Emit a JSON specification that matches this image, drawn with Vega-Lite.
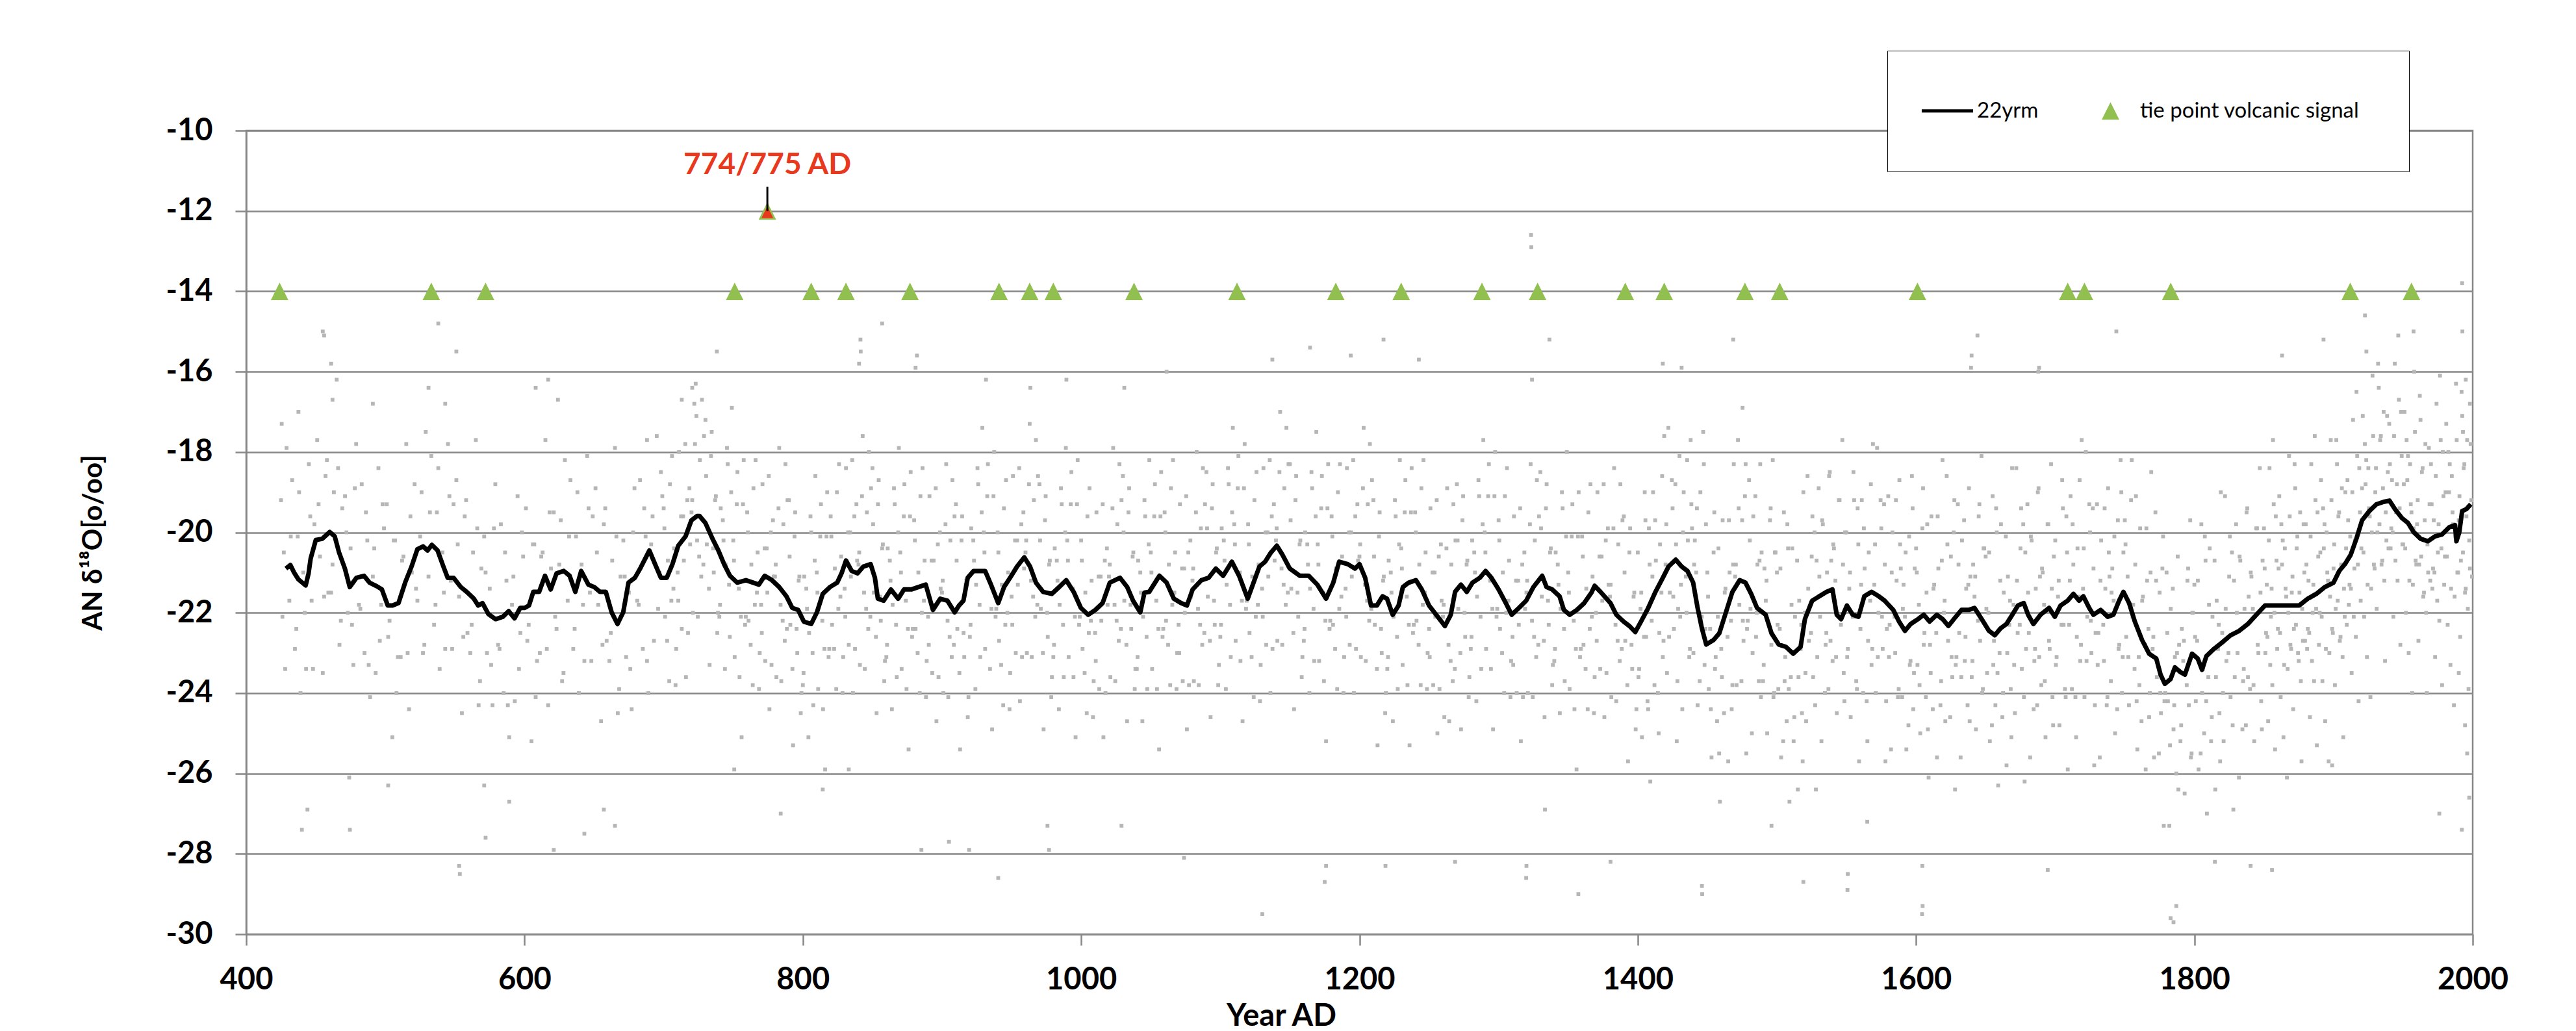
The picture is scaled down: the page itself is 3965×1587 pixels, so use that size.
{
"$schema": "https://vega.github.io/schema/vega-lite/v6.json",
"width": 3427, "height": 1237,
"autosize": {"type": "none"},
"padding": {"left": 379, "top": 201, "right": 159, "bottom": 149},
"background": "white",
"config": {
  "view": {"stroke": "#878787", "strokeWidth": 2.5},
  "font": "Lato",
  "axis": {"labelFont": "Lato", "titleFont": "Lato", "labelColor": "black", "titleColor": "black", "domainColor": "#878787", "domainWidth": 2.5, "tickColor": "#878787", "tickWidth": 2.5, "tickSize": 17, "gridColor": "#878787", "gridWidth": 2.5, "labelFontWeight": "bold", "labelFontSize": 47, "titleFontWeight": "bold", "labelOverlap": false, "labelFlush": false}
},
"datasets": {
"raw": [
{"t":425,"v":-19.2},{"t":426,"v":-22.1},{"t":427,"v":-20.5},{"t":428,"v":-23.4},{"t":429,"v":-17.9},
{"t":431,"v":-21.7},{"t":433,"v":-18.7},{"t":435,"v":-22.9},{"t":437,"v":-20.1},{"t":439,"v":-24.0},
{"t":441,"v":-21.0},{"t":443,"v":-23.4},{"t":445,"v":-18.3},{"t":447,"v":-21.7},{"t":449,"v":-19.8},
{"t":451,"v":-17.7},{"t":453,"v":-20.6},{"t":455,"v":-23.5},{"t":457,"v":-18.6},{"t":459,"v":-21.5},
{"t":461,"v":-21.5},{"t":463,"v":-19.0},{"t":465,"v":-16.2},{"t":467,"v":-22.8},{"t":469,"v":-19.4},
{"t":471,"v":-19.1},{"t":473,"v":-22.0},{"t":475,"v":-20.4},{"t":477,"v":-23.3},{"t":479,"v":-17.8},
{"t":481,"v":-21.8},{"t":483,"v":-18.8},{"t":485,"v":-23.0},{"t":487,"v":-20.2},{"t":489,"v":-24.1},
{"t":491,"v":-21.1},{"t":493,"v":-23.5},{"t":495,"v":-18.4},{"t":497,"v":-21.8},{"t":499,"v":-19.9},
{"t":501,"v":-19.3},{"t":503,"v":-22.2},{"t":505,"v":-25.1},{"t":507,"v":-20.2},{"t":509,"v":-23.1},
{"t":511,"v":-23.1},{"t":513,"v":-20.6},{"t":515,"v":-17.8},{"t":517,"v":-24.4},{"t":519,"v":-21.0},
{"t":521,"v":-18.8},{"t":523,"v":-21.7},{"t":525,"v":-20.1},{"t":527,"v":-23.0},{"t":529,"v":-17.5},
{"t":531,"v":-21.1},{"t":533,"v":-18.1},{"t":535,"v":-22.3},{"t":537,"v":-19.5},{"t":539,"v":-23.4},
{"t":541,"v":-20.5},{"t":543,"v":-22.9},{"t":545,"v":-17.8},{"t":547,"v":-21.2},{"t":549,"v":-19.3},
{"t":551,"v":-18.7},{"t":553,"v":-21.6},{"t":555,"v":-24.5},{"t":557,"v":-19.6},{"t":559,"v":-22.5},
{"t":561,"v":-23.0},{"t":563,"v":-20.5},{"t":565,"v":-17.7},{"t":567,"v":-24.3},{"t":569,"v":-20.9},
{"t":571,"v":-20.1},{"t":573,"v":-23.0},{"t":575,"v":-21.4},{"t":577,"v":-24.3},{"t":579,"v":-18.8},
{"t":581,"v":-22.8},{"t":583,"v":-19.8},{"t":585,"v":-24.0},{"t":587,"v":-21.2},{"t":589,"v":-25.1},
{"t":591,"v":-21.8},{"t":593,"v":-24.2},{"t":595,"v":-19.1},{"t":597,"v":-22.5},{"t":599,"v":-20.6},
{"t":601,"v":-19.4},{"t":603,"v":-22.3},{"t":605,"v":-25.2},{"t":607,"v":-20.3},{"t":609,"v":-23.2},
{"t":611,"v":-23.0},{"t":613,"v":-20.5},{"t":615,"v":-17.7},{"t":617,"v":-24.3},{"t":619,"v":-20.9},
{"t":621,"v":-19.5},{"t":623,"v":-22.4},{"t":625,"v":-20.8},{"t":627,"v":-23.7},{"t":629,"v":-18.2},
{"t":631,"v":-21.7},{"t":633,"v":-18.7},{"t":635,"v":-22.9},{"t":637,"v":-20.1},{"t":639,"v":-24.0},
{"t":641,"v":-20.8},{"t":643,"v":-23.2},{"t":645,"v":-18.1},{"t":647,"v":-21.5},{"t":649,"v":-19.6},
{"t":651,"v":-18.9},{"t":653,"v":-21.8},{"t":655,"v":-24.7},{"t":657,"v":-19.8},{"t":659,"v":-22.7},
{"t":661,"v":-23.2},{"t":663,"v":-20.7},{"t":665,"v":-17.9},{"t":667,"v":-24.5},{"t":669,"v":-21.1},
{"t":671,"v":-20.2},{"t":673,"v":-23.1},{"t":675,"v":-21.5},{"t":677,"v":-24.4},{"t":679,"v":-18.9},
{"t":681,"v":-21.7},{"t":683,"v":-18.7},{"t":685,"v":-22.9},{"t":687,"v":-20.1},{"t":689,"v":-24.0},
{"t":691,"v":-20.3},{"t":693,"v":-22.7},{"t":695,"v":-17.6},{"t":697,"v":-21.0},{"t":699,"v":-19.1},
{"t":700,"v":-19.4},{"t":701,"v":-22.1},{"t":703,"v":-20.7},{"t":704,"v":-23.7},{"t":706,"v":-18.1},{"t":707,"v":-21.4},{"t":709,"v":-22.9},
{"t":710,"v":-21.0},{"t":711,"v":-18.0},{"t":713,"v":-22.4},{"t":714,"v":-19.6},{"t":716,"v":-23.6},{"t":717,"v":-19.2},{"t":719,"v":-20.3},
{"t":720,"v":-19.5},{"t":721,"v":-22.0},{"t":723,"v":-16.3},{"t":724,"v":-20.2},{"t":726,"v":-18.2},{"t":727,"v":-21.1},{"t":729,"v":-17.6},
{"t":730,"v":-17.2},{"t":731,"v":-20.3},{"t":733,"v":-23.3},{"t":734,"v":-18.1},{"t":736,"v":-21.0},{"t":737,"v":-19.2},{"t":739,"v":-22.0},
{"t":740,"v":-22.1},{"t":741,"v":-19.4},{"t":743,"v":-20.2},{"t":744,"v":-23.4},{"t":746,"v":-18.3},{"t":747,"v":-21.3},{"t":749,"v":-16.9},
{"t":750,"v":-20.2},{"t":751,"v":-23.1},{"t":753,"v":-18.5},{"t":754,"v":-21.4},{"t":756,"v":-25.1},{"t":757,"v":-19.3},{"t":759,"v":-22.1},
{"t":760,"v":-19.5},{"t":761,"v":-22.2},{"t":763,"v":-20.8},{"t":764,"v":-23.8},{"t":766,"v":-18.2},{"t":767,"v":-21.5},{"t":769,"v":-23.0},
{"t":770,"v":-21.8},{"t":771,"v":-18.8},{"t":773,"v":-23.2},{"t":774,"v":-20.4},{"t":776,"v":-24.4},{"t":777,"v":-20.0},{"t":779,"v":-21.1},
{"t":780,"v":-21.1},{"t":781,"v":-23.6},{"t":783,"v":-17.9},{"t":784,"v":-21.8},{"t":786,"v":-19.8},{"t":787,"v":-22.7},{"t":789,"v":-19.2},
{"t":790,"v":-19.2},{"t":791,"v":-22.3},{"t":793,"v":-25.3},{"t":794,"v":-20.1},{"t":796,"v":-23.0},{"t":797,"v":-21.2},{"t":799,"v":-24.0},
{"t":800,"v":-23.8},{"t":801,"v":-21.1},{"t":803,"v":-21.9},{"t":804,"v":-25.1},{"t":806,"v":-20.0},{"t":807,"v":-23.0},{"t":809,"v":-18.6},
{"t":810,"v":-21.0},{"t":811,"v":-23.9},{"t":813,"v":-19.3},{"t":814,"v":-22.2},{"t":816,"v":-25.9},{"t":817,"v":-20.1},{"t":819,"v":-22.9},
{"t":820,"v":-19.6},{"t":821,"v":-22.3},{"t":823,"v":-20.9},{"t":824,"v":-23.9},{"t":826,"v":-18.3},{"t":827,"v":-21.6},{"t":829,"v":-23.1},
{"t":830,"v":-21.4},{"t":831,"v":-18.4},{"t":833,"v":-22.8},{"t":834,"v":-20.0},{"t":836,"v":-24.0},{"t":837,"v":-19.6},{"t":839,"v":-20.7},
{"t":840,"v":-20.8},{"t":841,"v":-23.3},{"t":843,"v":-17.6},{"t":844,"v":-21.5},{"t":846,"v":-19.5},{"t":847,"v":-22.4},{"t":849,"v":-18.9},
{"t":850,"v":-18.4},{"t":851,"v":-21.5},{"t":853,"v":-24.5},{"t":854,"v":-19.3},{"t":856,"v":-22.2},{"t":857,"v":-20.4},{"t":859,"v":-23.2},
{"t":860,"v":-23.1},{"t":861,"v":-20.4},{"t":863,"v":-21.2},{"t":864,"v":-24.4},{"t":866,"v":-19.3},{"t":867,"v":-22.3},{"t":869,"v":-17.9},
{"t":870,"v":-20.5},{"t":871,"v":-23.4},{"t":873,"v":-18.8},{"t":874,"v":-21.7},{"t":876,"v":-25.4},{"t":877,"v":-19.6},{"t":879,"v":-22.4},
{"t":880,"v":-19.7},{"t":881,"v":-22.4},{"t":883,"v":-21.0},{"t":884,"v":-24.0},{"t":886,"v":-18.4},{"t":887,"v":-21.7},{"t":889,"v":-23.2},
{"t":890,"v":-22.1},{"t":891,"v":-19.1},{"t":893,"v":-23.5},{"t":894,"v":-20.7},{"t":896,"v":-24.7},{"t":897,"v":-20.3},{"t":899,"v":-21.4},
{"t":900,"v":-21.5},{"t":901,"v":-24.0},{"t":903,"v":-18.3},{"t":904,"v":-22.2},{"t":906,"v":-20.2},{"t":907,"v":-23.1},{"t":909,"v":-19.6},
{"t":910,"v":-19.3},{"t":911,"v":-22.4},{"t":913,"v":-25.4},{"t":914,"v":-20.2},{"t":916,"v":-23.1},{"t":917,"v":-21.3},{"t":919,"v":-24.1},
{"t":920,"v":-22.6},{"t":921,"v":-19.9},{"t":923,"v":-20.7},{"t":924,"v":-23.9},{"t":926,"v":-18.8},{"t":927,"v":-21.8},{"t":929,"v":-17.4},
{"t":930,"v":-20.0},{"t":931,"v":-22.9},{"t":933,"v":-18.3},{"t":934,"v":-21.2},{"t":936,"v":-24.9},{"t":937,"v":-19.1},{"t":939,"v":-21.9},
{"t":940,"v":-20.0},{"t":941,"v":-22.7},{"t":943,"v":-21.3},{"t":944,"v":-24.3},{"t":946,"v":-18.7},{"t":947,"v":-22.0},{"t":949,"v":-23.5},
{"t":950,"v":-21.6},{"t":951,"v":-18.6},{"t":953,"v":-23.0},{"t":954,"v":-20.2},{"t":956,"v":-24.2},{"t":957,"v":-19.8},{"t":959,"v":-20.9},
{"t":960,"v":-20.5},{"t":961,"v":-23.0},{"t":963,"v":-17.3},{"t":964,"v":-21.2},{"t":966,"v":-19.2},{"t":967,"v":-22.1},{"t":969,"v":-18.6},
{"t":970,"v":-18.8},{"t":971,"v":-21.9},{"t":973,"v":-24.9},{"t":974,"v":-19.7},{"t":976,"v":-22.6},{"t":977,"v":-20.8},{"t":979,"v":-23.6},
{"t":980,"v":-23.1},{"t":981,"v":-20.4},{"t":983,"v":-21.2},{"t":984,"v":-24.4},{"t":986,"v":-19.3},{"t":987,"v":-22.3},{"t":989,"v":-17.9},
{"t":990,"v":-20.2},{"t":991,"v":-23.1},{"t":993,"v":-18.5},{"t":994,"v":-21.4},{"t":996,"v":-25.1},{"t":997,"v":-19.3},{"t":999,"v":-22.1},
{"t":1000,"v":-20.2},{"t":1001,"v":-22.9},{"t":1003,"v":-21.5},{"t":1004,"v":-24.5},{"t":1006,"v":-18.9},{"t":1007,"v":-22.2},{"t":1009,"v":-23.7},
{"t":1010,"v":-22.5},{"t":1011,"v":-19.5},{"t":1013,"v":-23.9},{"t":1014,"v":-21.1},{"t":1016,"v":-25.1},{"t":1017,"v":-20.7},{"t":1019,"v":-21.8},
{"t":1020,"v":-21.1},{"t":1021,"v":-23.6},{"t":1023,"v":-17.9},{"t":1024,"v":-21.8},{"t":1026,"v":-19.8},{"t":1027,"v":-22.7},{"t":1029,"v":-19.2},
{"t":1030,"v":-18.6},{"t":1031,"v":-21.7},{"t":1033,"v":-24.7},{"t":1034,"v":-19.5},{"t":1036,"v":-22.4},{"t":1037,"v":-20.6},{"t":1039,"v":-23.4},
{"t":1040,"v":-23.4},{"t":1041,"v":-20.7},{"t":1043,"v":-21.5},{"t":1044,"v":-24.7},{"t":1046,"v":-19.6},{"t":1047,"v":-22.6},{"t":1049,"v":-18.2},
{"t":1050,"v":-20.5},{"t":1051,"v":-23.4},{"t":1053,"v":-18.8},{"t":1054,"v":-21.7},{"t":1056,"v":-25.4},{"t":1057,"v":-19.6},{"t":1059,"v":-22.4},
{"t":1060,"v":-19.5},{"t":1061,"v":-22.2},{"t":1063,"v":-20.8},{"t":1064,"v":-23.8},{"t":1066,"v":-18.2},{"t":1067,"v":-21.5},{"t":1069,"v":-23.0},
{"t":1070,"v":-22.3},{"t":1071,"v":-19.3},{"t":1073,"v":-23.7},{"t":1074,"v":-20.9},{"t":1076,"v":-24.9},{"t":1077,"v":-20.5},{"t":1079,"v":-21.6},
{"t":1080,"v":-21.2},{"t":1081,"v":-23.7},{"t":1083,"v":-18.0},{"t":1084,"v":-21.9},{"t":1086,"v":-19.9},{"t":1087,"v":-22.8},{"t":1089,"v":-19.3},
{"t":1090,"v":-18.5},{"t":1091,"v":-21.6},{"t":1093,"v":-24.6},{"t":1094,"v":-19.4},{"t":1096,"v":-22.3},{"t":1097,"v":-20.5},{"t":1099,"v":-23.3},
{"t":1100,"v":-22.6},{"t":1101,"v":-19.9},{"t":1103,"v":-20.7},{"t":1104,"v":-23.9},{"t":1106,"v":-18.8},{"t":1107,"v":-21.8},{"t":1109,"v":-17.4},
{"t":1110,"v":-19.8},{"t":1111,"v":-22.7},{"t":1113,"v":-18.1},{"t":1114,"v":-21.0},{"t":1116,"v":-24.7},{"t":1117,"v":-18.9},{"t":1119,"v":-21.7},
{"t":1120,"v":-19.8},{"t":1121,"v":-22.5},{"t":1123,"v":-21.1},{"t":1124,"v":-24.1},{"t":1126,"v":-18.5},{"t":1127,"v":-21.8},{"t":1129,"v":-23.3},
{"t":1130,"v":-21.4},{"t":1131,"v":-18.4},{"t":1133,"v":-22.8},{"t":1134,"v":-20.0},{"t":1136,"v":-24.0},{"t":1137,"v":-19.6},{"t":1139,"v":-20.7},
{"t":1140,"v":-20.2},{"t":1141,"v":-22.7},{"t":1143,"v":-17.0},{"t":1144,"v":-20.9},{"t":1146,"v":-18.9},{"t":1147,"v":-21.8},{"t":1149,"v":-18.3},
{"t":1150,"v":-18.3},{"t":1151,"v":-21.4},{"t":1153,"v":-24.4},{"t":1154,"v":-19.2},{"t":1156,"v":-22.1},{"t":1157,"v":-20.3},{"t":1159,"v":-23.1},
{"t":1160,"v":-22.7},{"t":1161,"v":-20.0},{"t":1163,"v":-20.8},{"t":1164,"v":-24.0},{"t":1166,"v":-18.9},{"t":1167,"v":-21.9},{"t":1169,"v":-17.5},
{"t":1170,"v":-20.3},{"t":1171,"v":-23.2},{"t":1173,"v":-18.6},{"t":1174,"v":-21.5},{"t":1176,"v":-25.2},{"t":1177,"v":-19.4},{"t":1179,"v":-22.2},
{"t":1180,"v":-19.6},{"t":1181,"v":-22.3},{"t":1183,"v":-20.9},{"t":1184,"v":-23.9},{"t":1186,"v":-18.3},{"t":1187,"v":-21.6},{"t":1189,"v":-23.1},
{"t":1190,"v":-21.4},{"t":1191,"v":-18.4},{"t":1193,"v":-22.8},{"t":1194,"v":-20.0},{"t":1196,"v":-24.0},{"t":1197,"v":-19.6},{"t":1199,"v":-20.7},
{"t":1200,"v":-20.6},{"t":1201,"v":-23.1},{"t":1203,"v":-17.4},{"t":1204,"v":-21.3},{"t":1206,"v":-19.3},{"t":1207,"v":-22.2},{"t":1209,"v":-18.7},
{"t":1210,"v":-19.2},{"t":1211,"v":-22.3},{"t":1213,"v":-25.3},{"t":1214,"v":-20.1},{"t":1216,"v":-23.0},{"t":1217,"v":-21.2},{"t":1219,"v":-24.0},
{"t":1220,"v":-23.4},{"t":1221,"v":-20.7},{"t":1223,"v":-21.5},{"t":1224,"v":-24.7},{"t":1226,"v":-19.6},{"t":1227,"v":-22.6},{"t":1229,"v":-18.2},
{"t":1230,"v":-20.4},{"t":1231,"v":-23.3},{"t":1233,"v":-18.7},{"t":1234,"v":-21.6},{"t":1236,"v":-25.3},{"t":1237,"v":-19.5},{"t":1239,"v":-22.3},
{"t":1240,"v":-19.5},{"t":1241,"v":-22.2},{"t":1243,"v":-20.8},{"t":1244,"v":-23.8},{"t":1246,"v":-18.2},{"t":1247,"v":-21.5},{"t":1249,"v":-23.0},
{"t":1250,"v":-22.4},{"t":1251,"v":-19.4},{"t":1253,"v":-23.8},{"t":1254,"v":-21.0},{"t":1256,"v":-25.0},{"t":1257,"v":-20.6},{"t":1259,"v":-21.7},
{"t":1260,"v":-22.1},{"t":1261,"v":-24.6},{"t":1263,"v":-18.9},{"t":1264,"v":-22.8},{"t":1266,"v":-20.8},{"t":1267,"v":-23.7},{"t":1269,"v":-20.2},
{"t":1270,"v":-18.8},{"t":1271,"v":-21.9},{"t":1273,"v":-24.9},{"t":1274,"v":-19.7},{"t":1276,"v":-22.6},{"t":1277,"v":-20.8},{"t":1279,"v":-23.6},
{"t":1280,"v":-22.9},{"t":1281,"v":-20.2},{"t":1283,"v":-21.0},{"t":1284,"v":-24.2},{"t":1286,"v":-19.1},{"t":1287,"v":-22.1},{"t":1289,"v":-17.7},
{"t":1290,"v":-20.0},{"t":1291,"v":-22.9},{"t":1293,"v":-18.3},{"t":1294,"v":-21.2},{"t":1296,"v":-24.9},{"t":1297,"v":-19.1},{"t":1299,"v":-21.9},
{"t":1300,"v":-19.7},{"t":1301,"v":-22.4},{"t":1303,"v":-21.0},{"t":1304,"v":-24.0},{"t":1306,"v":-18.4},{"t":1307,"v":-21.7},{"t":1309,"v":-23.2},
{"t":1310,"v":-22.6},{"t":1311,"v":-19.6},{"t":1313,"v":-24.0},{"t":1314,"v":-21.2},{"t":1316,"v":-25.2},{"t":1317,"v":-20.8},{"t":1319,"v":-21.9},
{"t":1320,"v":-21.5},{"t":1321,"v":-24.0},{"t":1323,"v":-18.3},{"t":1324,"v":-22.2},{"t":1326,"v":-20.2},{"t":1327,"v":-23.1},{"t":1329,"v":-19.6},
{"t":1330,"v":-18.5},{"t":1331,"v":-21.6},{"t":1333,"v":-24.6},{"t":1334,"v":-19.4},{"t":1336,"v":-22.3},{"t":1337,"v":-20.5},{"t":1339,"v":-23.3},
{"t":1340,"v":-23.2},{"t":1341,"v":-20.5},{"t":1343,"v":-21.3},{"t":1344,"v":-24.5},{"t":1346,"v":-19.4},{"t":1347,"v":-22.4},{"t":1349,"v":-18.0},
{"t":1350,"v":-21.0},{"t":1351,"v":-23.9},{"t":1353,"v":-19.3},{"t":1354,"v":-22.2},{"t":1356,"v":-25.9},{"t":1357,"v":-20.1},{"t":1359,"v":-22.9},
{"t":1360,"v":-20.1},{"t":1361,"v":-22.8},{"t":1363,"v":-21.4},{"t":1364,"v":-24.4},{"t":1366,"v":-18.8},{"t":1367,"v":-22.1},{"t":1369,"v":-23.6},
{"t":1370,"v":-22.0},{"t":1371,"v":-19.0},{"t":1373,"v":-23.4},{"t":1374,"v":-20.6},{"t":1376,"v":-24.6},{"t":1377,"v":-20.2},{"t":1379,"v":-21.3},
{"t":1380,"v":-21.6},{"t":1381,"v":-24.1},{"t":1383,"v":-18.4},{"t":1384,"v":-22.3},{"t":1386,"v":-20.3},{"t":1387,"v":-23.2},{"t":1389,"v":-19.7},
{"t":1390,"v":-19.6},{"t":1391,"v":-22.7},{"t":1393,"v":-25.7},{"t":1394,"v":-20.5},{"t":1396,"v":-23.4},{"t":1397,"v":-21.6},{"t":1399,"v":-24.4},
{"t":1400,"v":-20.5},{"t":1401,"v":-23.4},{"t":1402,"v":-21.9},{"t":1403,"v":-25.1},{"t":1405,"v":-19.0},{"t":1406,"v":-22.6},{"t":1407,"v":-24.2},{"t":1408,"v":-19.9},{"t":1409,"v":-26.2},
{"t":1410,"v":-22.2},{"t":1411,"v":-19.0},{"t":1412,"v":-23.8},{"t":1413,"v":-20.7},{"t":1415,"v":-25.0},{"t":1416,"v":-20.3},{"t":1417,"v":-21.5},{"t":1418,"v":-23.1},{"t":1419,"v":-17.6},
{"t":1420,"v":-20.8},{"t":1421,"v":-23.5},{"t":1422,"v":-17.4},{"t":1423,"v":-21.5},{"t":1425,"v":-19.4},{"t":1426,"v":-22.4},{"t":1427,"v":-18.8},{"t":1428,"v":-25.2},{"t":1429,"v":-21.9},
{"t":1430,"v":-18.1},{"t":1431,"v":-21.3},{"t":1432,"v":-24.4},{"t":1433,"v":-19.0},{"t":1435,"v":-22.0},{"t":1436,"v":-20.2},{"t":1437,"v":-23.1},{"t":1438,"v":-17.7},{"t":1439,"v":-19.9},
{"t":1440,"v":-23.0},{"t":1441,"v":-20.2},{"t":1442,"v":-21.0},{"t":1443,"v":-24.3},{"t":1445,"v":-19.0},{"t":1446,"v":-22.1},{"t":1447,"v":-17.5},{"t":1448,"v":-23.3},{"t":1449,"v":-19.8},
{"t":1450,"v":-21.0},{"t":1451,"v":-23.9},{"t":1452,"v":-22.4},{"t":1453,"v":-25.6},{"t":1455,"v":-19.5},{"t":1456,"v":-23.1},{"t":1457,"v":-24.7},{"t":1458,"v":-20.4},{"t":1459,"v":-26.7},
{"t":1460,"v":-22.9},{"t":1461,"v":-19.7},{"t":1462,"v":-24.5},{"t":1463,"v":-21.4},{"t":1465,"v":-25.7},{"t":1466,"v":-21.0},{"t":1467,"v":-22.2},{"t":1468,"v":-23.8},{"t":1469,"v":-18.3},
{"t":1470,"v":-21.1},{"t":1471,"v":-23.8},{"t":1472,"v":-17.7},{"t":1473,"v":-21.8},{"t":1475,"v":-19.7},{"t":1476,"v":-22.7},{"t":1477,"v":-19.1},{"t":1478,"v":-25.5},{"t":1479,"v":-22.2},
{"t":1480,"v":-18.7},{"t":1481,"v":-21.9},{"t":1482,"v":-25.0},{"t":1483,"v":-19.6},{"t":1485,"v":-22.6},{"t":1486,"v":-20.8},{"t":1487,"v":-23.7},{"t":1488,"v":-18.3},{"t":1489,"v":-20.5},
{"t":1490,"v":-23.7},{"t":1491,"v":-20.9},{"t":1492,"v":-21.7},{"t":1493,"v":-25.0},{"t":1495,"v":-19.7},{"t":1496,"v":-22.8},{"t":1497,"v":-18.2},{"t":1498,"v":-24.0},{"t":1499,"v":-20.5},
{"t":1500,"v":-21.0},{"t":1501,"v":-23.9},{"t":1502,"v":-22.4},{"t":1503,"v":-25.6},{"t":1505,"v":-19.5},{"t":1506,"v":-23.1},{"t":1507,"v":-24.7},{"t":1508,"v":-20.4},{"t":1509,"v":-26.7},
{"t":1510,"v":-23.6},{"t":1511,"v":-20.4},{"t":1512,"v":-25.2},{"t":1513,"v":-22.1},{"t":1515,"v":-26.4},{"t":1516,"v":-21.7},{"t":1517,"v":-22.9},{"t":1518,"v":-24.5},{"t":1519,"v":-19.0},
{"t":1520,"v":-22.0},{"t":1521,"v":-24.7},{"t":1522,"v":-18.6},{"t":1523,"v":-22.7},{"t":1525,"v":-20.6},{"t":1526,"v":-23.6},{"t":1527,"v":-20.0},{"t":1528,"v":-26.4},{"t":1529,"v":-23.1},
{"t":1530,"v":-18.9},{"t":1531,"v":-22.1},{"t":1532,"v":-25.2},{"t":1533,"v":-19.8},{"t":1535,"v":-22.8},{"t":1536,"v":-21.0},{"t":1537,"v":-23.9},{"t":1538,"v":-18.5},{"t":1539,"v":-20.7},
{"t":1540,"v":-23.2},{"t":1541,"v":-20.4},{"t":1542,"v":-21.2},{"t":1543,"v":-24.5},{"t":1545,"v":-19.2},{"t":1546,"v":-22.3},{"t":1547,"v":-17.7},{"t":1548,"v":-23.5},{"t":1549,"v":-20.0},
{"t":1550,"v":-20.0},{"t":1551,"v":-22.9},{"t":1552,"v":-21.4},{"t":1553,"v":-24.6},{"t":1555,"v":-18.5},{"t":1556,"v":-22.1},{"t":1557,"v":-23.7},{"t":1558,"v":-19.4},{"t":1559,"v":-25.7},
{"t":1560,"v":-22.4},{"t":1561,"v":-19.2},{"t":1562,"v":-24.0},{"t":1563,"v":-20.9},{"t":1565,"v":-25.2},{"t":1566,"v":-20.5},{"t":1567,"v":-21.7},{"t":1568,"v":-23.3},{"t":1569,"v":-17.8},
{"t":1570,"v":-21.3},{"t":1571,"v":-24.0},{"t":1572,"v":-17.9},{"t":1573,"v":-22.0},{"t":1575,"v":-19.9},{"t":1576,"v":-22.9},{"t":1577,"v":-19.3},{"t":1578,"v":-25.7},{"t":1579,"v":-22.4},
{"t":1580,"v":-19.1},{"t":1581,"v":-22.3},{"t":1582,"v":-25.4},{"t":1583,"v":-20.0},{"t":1585,"v":-23.0},{"t":1586,"v":-21.2},{"t":1587,"v":-24.1},{"t":1588,"v":-18.7},{"t":1589,"v":-20.9},
{"t":1590,"v":-24.1},{"t":1591,"v":-21.3},{"t":1592,"v":-22.1},{"t":1593,"v":-25.4},{"t":1595,"v":-20.1},{"t":1596,"v":-23.2},{"t":1597,"v":-18.6},{"t":1598,"v":-24.4},{"t":1599,"v":-20.9},
{"t":1600,"v":-20.4},{"t":1601,"v":-23.3},{"t":1602,"v":-21.8},{"t":1603,"v":-25.0},{"t":1605,"v":-18.9},{"t":1606,"v":-22.5},{"t":1607,"v":-24.1},{"t":1608,"v":-19.8},{"t":1609,"v":-26.1},
{"t":1610,"v":-22.8},{"t":1611,"v":-19.6},{"t":1612,"v":-24.4},{"t":1613,"v":-21.3},{"t":1615,"v":-25.6},{"t":1616,"v":-20.9},{"t":1617,"v":-22.1},{"t":1618,"v":-23.7},{"t":1619,"v":-18.2},
{"t":1620,"v":-22.0},{"t":1621,"v":-24.7},{"t":1622,"v":-18.6},{"t":1623,"v":-22.7},{"t":1625,"v":-20.6},{"t":1626,"v":-23.6},{"t":1627,"v":-20.0},{"t":1628,"v":-26.4},{"t":1629,"v":-23.1},
{"t":1630,"v":-19.3},{"t":1631,"v":-22.5},{"t":1632,"v":-25.6},{"t":1633,"v":-20.2},{"t":1635,"v":-23.2},{"t":1636,"v":-21.4},{"t":1637,"v":-24.3},{"t":1638,"v":-18.9},{"t":1639,"v":-21.1},
{"t":1640,"v":-23.6},{"t":1641,"v":-20.8},{"t":1642,"v":-21.6},{"t":1643,"v":-24.9},{"t":1645,"v":-19.6},{"t":1646,"v":-22.7},{"t":1647,"v":-18.1},{"t":1648,"v":-23.9},{"t":1649,"v":-20.4},
{"t":1650,"v":-20.6},{"t":1651,"v":-23.5},{"t":1652,"v":-22.0},{"t":1653,"v":-25.2},{"t":1655,"v":-19.1},{"t":1656,"v":-22.7},{"t":1657,"v":-24.3},{"t":1658,"v":-20.0},{"t":1659,"v":-26.3},
{"t":1660,"v":-23.0},{"t":1661,"v":-19.8},{"t":1662,"v":-24.6},{"t":1663,"v":-21.5},{"t":1665,"v":-25.8},{"t":1666,"v":-21.1},{"t":1667,"v":-22.3},{"t":1668,"v":-23.9},{"t":1669,"v":-18.4},
{"t":1670,"v":-21.8},{"t":1671,"v":-24.5},{"t":1672,"v":-18.4},{"t":1673,"v":-22.5},{"t":1675,"v":-20.4},{"t":1676,"v":-23.4},{"t":1677,"v":-19.8},{"t":1678,"v":-26.2},{"t":1679,"v":-22.9},
{"t":1680,"v":-19.3},{"t":1681,"v":-22.5},{"t":1682,"v":-25.6},{"t":1683,"v":-20.2},{"t":1685,"v":-23.2},{"t":1686,"v":-21.4},{"t":1687,"v":-24.3},{"t":1688,"v":-18.9},{"t":1689,"v":-21.1},
{"t":1690,"v":-23.8},{"t":1691,"v":-21.0},{"t":1692,"v":-21.8},{"t":1693,"v":-25.1},{"t":1695,"v":-19.8},{"t":1696,"v":-22.9},{"t":1697,"v":-18.3},{"t":1698,"v":-24.1},{"t":1699,"v":-20.6},
{"t":1700,"v":-20.2},{"t":1701,"v":-23.1},{"t":1702,"v":-21.6},{"t":1703,"v":-24.8},{"t":1705,"v":-18.7},{"t":1706,"v":-22.3},{"t":1707,"v":-23.9},{"t":1708,"v":-19.6},{"t":1709,"v":-25.9},
{"t":1710,"v":-22.3},{"t":1711,"v":-19.1},{"t":1712,"v":-23.9},{"t":1713,"v":-20.8},{"t":1715,"v":-25.1},{"t":1716,"v":-20.4},{"t":1717,"v":-21.6},{"t":1718,"v":-23.2},{"t":1719,"v":-17.7},
{"t":1720,"v":-21.4},{"t":1721,"v":-24.1},{"t":1722,"v":-18.0},{"t":1723,"v":-22.1},{"t":1725,"v":-20.0},{"t":1726,"v":-23.0},{"t":1727,"v":-19.4},{"t":1728,"v":-25.8},{"t":1729,"v":-22.5},
{"t":1730,"v":-19.3},{"t":1731,"v":-22.5},{"t":1732,"v":-25.6},{"t":1733,"v":-20.2},{"t":1735,"v":-23.2},{"t":1736,"v":-21.4},{"t":1737,"v":-24.3},{"t":1738,"v":-18.9},{"t":1739,"v":-21.1},
{"t":1740,"v":-23.7},{"t":1741,"v":-20.9},{"t":1742,"v":-21.7},{"t":1743,"v":-25.0},{"t":1745,"v":-19.7},{"t":1746,"v":-22.8},{"t":1747,"v":-18.2},{"t":1748,"v":-24.0},{"t":1749,"v":-20.5},
{"t":1750,"v":-19.7},{"t":1751,"v":-22.6},{"t":1752,"v":-21.1},{"t":1753,"v":-24.3},{"t":1755,"v":-18.2},{"t":1756,"v":-21.8},{"t":1757,"v":-23.4},{"t":1758,"v":-19.1},{"t":1759,"v":-25.4},
{"t":1760,"v":-23.1},{"t":1761,"v":-19.9},{"t":1762,"v":-24.7},{"t":1763,"v":-21.6},{"t":1765,"v":-25.9},{"t":1766,"v":-21.2},{"t":1767,"v":-22.4},{"t":1768,"v":-24.0},{"t":1769,"v":-18.5},
{"t":1770,"v":-22.9},{"t":1771,"v":-25.6},{"t":1772,"v":-19.5},{"t":1773,"v":-23.6},{"t":1775,"v":-21.5},{"t":1776,"v":-24.5},{"t":1777,"v":-20.9},{"t":1778,"v":-27.3},{"t":1779,"v":-24.0},
{"t":1780,"v":-21.0},{"t":1781,"v":-24.2},{"t":1782,"v":-27.3},{"t":1783,"v":-21.9},{"t":1785,"v":-24.9},{"t":1786,"v":-23.1},{"t":1787,"v":-26.0},{"t":1788,"v":-20.6},{"t":1789,"v":-22.8},
{"t":1790,"v":-25.2},{"t":1791,"v":-22.4},{"t":1792,"v":-23.2},{"t":1793,"v":-26.5},{"t":1795,"v":-21.2},{"t":1796,"v":-24.3},{"t":1797,"v":-19.7},{"t":1798,"v":-25.5},{"t":1799,"v":-22.0},
{"t":1800,"v":-21.3},{"t":1801,"v":-24.2},{"t":1802,"v":-22.7},{"t":1803,"v":-25.9},{"t":1805,"v":-19.8},{"t":1806,"v":-23.4},{"t":1807,"v":-25.0},{"t":1808,"v":-20.7},{"t":1809,"v":-27.0},
{"t":1810,"v":-23.6},{"t":1811,"v":-20.4},{"t":1812,"v":-25.2},{"t":1813,"v":-22.1},{"t":1815,"v":-26.4},{"t":1816,"v":-21.7},{"t":1817,"v":-22.9},{"t":1818,"v":-24.5},{"t":1819,"v":-19.0},
{"t":1820,"v":-22.5},{"t":1821,"v":-25.2},{"t":1822,"v":-19.1},{"t":1823,"v":-23.2},{"t":1825,"v":-21.1},{"t":1826,"v":-24.1},{"t":1827,"v":-20.5},{"t":1828,"v":-26.9},{"t":1829,"v":-23.6},
{"t":1830,"v":-19.8},{"t":1831,"v":-23.0},{"t":1832,"v":-26.1},{"t":1833,"v":-20.7},{"t":1835,"v":-23.7},{"t":1836,"v":-21.9},{"t":1837,"v":-24.8},{"t":1838,"v":-19.4},{"t":1839,"v":-21.6},
{"t":1840,"v":-23.9},{"t":1841,"v":-21.1},{"t":1842,"v":-21.9},{"t":1843,"v":-25.2},{"t":1845,"v":-19.9},{"t":1846,"v":-23.0},{"t":1847,"v":-18.4},{"t":1848,"v":-24.2},{"t":1849,"v":-20.7},
{"t":1850,"v":-19.9},{"t":1851,"v":-23.0},{"t":1852,"v":-21.3},{"t":1853,"v":-24.7},{"t":1854,"v":-18.4},{"t":1855,"v":-22.1},{"t":1856,"v":-23.8},{"t":1857,"v":-19.3},{"t":1858,"v":-25.4},{"t":1859,"v":-20.7},{"t":1852.5,"v":-22.6},{"t":1856.5,"v":-17.7},
{"t":1860,"v":-22.4},{"t":1861,"v":-19.1},{"t":1862,"v":-24.1},{"t":1863,"v":-20.8},{"t":1864,"v":-25.1},{"t":1865,"v":-20.4},{"t":1866,"v":-21.6},{"t":1867,"v":-23.4},{"t":1868,"v":-18.1},{"t":1869,"v":-22.8},{"t":1862.5,"v":-19.8},{"t":1866.5,"v":-26.1},
{"t":1870,"v":-21.5},{"t":1871,"v":-24.4},{"t":1872,"v":-18.3},{"t":1873,"v":-22.3},{"t":1874,"v":-20.1},{"t":1875,"v":-23.2},{"t":1876,"v":-19.5},{"t":1877,"v":-25.7},{"t":1878,"v":-22.7},{"t":1879,"v":-21.0},{"t":1872.5,"v":-18.9},{"t":1876.5,"v":-23.7},
{"t":1880,"v":-19.8},{"t":1881,"v":-22.9},{"t":1882,"v":-21.2},{"t":1883,"v":-24.6},{"t":1884,"v":-18.3},{"t":1885,"v":-22.0},{"t":1886,"v":-23.7},{"t":1887,"v":-19.2},{"t":1888,"v":-25.3},{"t":1889,"v":-20.6},{"t":1882.5,"v":-22.5},{"t":1886.5,"v":-17.6},
{"t":1890,"v":-22.0},{"t":1891,"v":-18.7},{"t":1892,"v":-23.7},{"t":1893,"v":-20.4},{"t":1894,"v":-24.7},{"t":1895,"v":-20.0},{"t":1896,"v":-21.2},{"t":1897,"v":-23.0},{"t":1898,"v":-17.7},{"t":1899,"v":-22.4},{"t":1892.5,"v":-19.4},{"t":1896.5,"v":-25.7},
{"t":1900,"v":-20.9},{"t":1901,"v":-23.8},{"t":1902,"v":-17.7},{"t":1903,"v":-21.7},{"t":1904,"v":-19.5},{"t":1905,"v":-22.6},{"t":1906,"v":-18.9},{"t":1907,"v":-25.1},{"t":1908,"v":-22.1},{"t":1909,"v":-20.4},{"t":1902.5,"v":-18.3},{"t":1906.5,"v":-23.1},
{"t":1910,"v":-18.7},{"t":1911,"v":-21.8},{"t":1912,"v":-20.1},{"t":1913,"v":-23.5},{"t":1914,"v":-17.2},{"t":1915,"v":-20.9},{"t":1916,"v":-22.6},{"t":1917,"v":-18.1},{"t":1918,"v":-24.2},{"t":1919,"v":-19.5},{"t":1912.5,"v":-21.4},{"t":1916.5,"v":-16.5},
{"t":1920,"v":-20.4},{"t":1921,"v":-17.1},{"t":1922,"v":-22.1},{"t":1923,"v":-18.8},{"t":1924,"v":-23.1},{"t":1925,"v":-18.4},{"t":1926,"v":-19.6},{"t":1927,"v":-21.4},{"t":1928,"v":-16.1},{"t":1929,"v":-20.8},{"t":1922.5,"v":-17.8},{"t":1926.5,"v":-24.1},
{"t":1930,"v":-19.0},{"t":1931,"v":-21.9},{"t":1932,"v":-15.8},{"t":1933,"v":-19.8},{"t":1934,"v":-17.6},{"t":1935,"v":-20.7},{"t":1936,"v":-17.0},{"t":1937,"v":-23.2},{"t":1938,"v":-20.2},{"t":1939,"v":-18.5},{"t":1932.5,"v":-16.4},{"t":1936.5,"v":-21.2},
{"t":1940,"v":-17.3},{"t":1941,"v":-20.4},{"t":1942,"v":-18.7},{"t":1943,"v":-22.1},{"t":1944,"v":-15.8},{"t":1945,"v":-19.5},{"t":1946,"v":-21.2},{"t":1947,"v":-16.7},{"t":1948,"v":-22.8},{"t":1949,"v":-18.1},{"t":1942.5,"v":-20.0},{"t":1946.5,"v":-15.1},
{"t":1950,"v":-20.3},{"t":1951,"v":-17.0},{"t":1952,"v":-22.0},{"t":1953,"v":-18.7},{"t":1954,"v":-23.0},{"t":1955,"v":-18.3},{"t":1956,"v":-19.5},{"t":1957,"v":-21.3},{"t":1958,"v":-16.0},{"t":1959,"v":-20.7},{"t":1952.5,"v":-17.7},{"t":1956.5,"v":-24.0},
{"t":1960,"v":-19.8},{"t":1961,"v":-22.7},{"t":1962,"v":-16.6},{"t":1963,"v":-20.6},{"t":1964,"v":-18.4},{"t":1965,"v":-21.5},{"t":1966,"v":-17.8},{"t":1967,"v":-24.0},{"t":1968,"v":-21.0},{"t":1969,"v":-19.3},{"t":1962.5,"v":-17.2},{"t":1966.5,"v":-22.0},
{"t":1970,"v":-18.3},{"t":1971,"v":-21.4},{"t":1972,"v":-19.7},{"t":1973,"v":-23.1},{"t":1974,"v":-16.8},{"t":1975,"v":-20.5},{"t":1976,"v":-22.2},{"t":1977,"v":-17.7},{"t":1978,"v":-23.8},{"t":1979,"v":-19.1},{"t":1972.5,"v":-21.0},{"t":1976.5,"v":-16.1},
{"t":1980,"v":-20.6},{"t":1981,"v":-17.3},{"t":1982,"v":-22.3},{"t":1983,"v":-19.0},{"t":1984,"v":-23.3},{"t":1985,"v":-18.6},{"t":1986,"v":-19.8},{"t":1987,"v":-21.6},{"t":1988,"v":-16.3},{"t":1989,"v":-21.0},{"t":1982.5,"v":-18.0},{"t":1986.5,"v":-24.3},
{"t":1990,"v":-19.7},{"t":1991,"v":-22.6},{"t":1992,"v":-16.5},{"t":1993,"v":-20.5},{"t":1994,"v":-18.3},{"t":1995,"v":-21.4},{"t":1996,"v":-17.7},{"t":1997,"v":-23.9},{"t":1998,"v":-20.9},{"t":1999,"v":-19.2},{"t":1992.5,"v":-17.1},{"t":1996.5,"v":-21.9},
{"t":1850.5,"v":-20.9},{"t":1851.5,"v":-22.5},{"t":1853.5,"v":-20.2},{"t":1854.5,"v":-23.3},{"t":1855.5,"v":-21.4},{"t":1857.5,"v":-22.0},{"t":1858.5,"v":-19.6},{"t":1859.5,"v":-22.9},
{"t":1860.5,"v":-20.9},{"t":1861.5,"v":-22.5},{"t":1863.5,"v":-20.2},{"t":1864.5,"v":-23.3},{"t":1865.5,"v":-21.4},{"t":1867.5,"v":-22.0},{"t":1868.5,"v":-19.6},{"t":1869.5,"v":-22.9},
{"t":1870.5,"v":-21.1},{"t":1871.5,"v":-22.4},{"t":1873.5,"v":-20.4},{"t":1874.5,"v":-23.0},{"t":1875.5,"v":-21.5},{"t":1877.5,"v":-21.9},{"t":1878.5,"v":-19.8},{"t":1879.5,"v":-22.7},
{"t":1880.5,"v":-20.8},{"t":1881.5,"v":-22.4},{"t":1883.5,"v":-20.1},{"t":1884.5,"v":-23.2},{"t":1885.5,"v":-21.3},{"t":1887.5,"v":-21.9},{"t":1888.5,"v":-19.5},{"t":1889.5,"v":-22.8},
{"t":1890.5,"v":-20.5},{"t":1891.5,"v":-22.1},{"t":1893.5,"v":-19.8},{"t":1894.5,"v":-22.9},{"t":1895.5,"v":-21.0},{"t":1897.5,"v":-21.6},{"t":1898.5,"v":-19.2},{"t":1899.5,"v":-22.5},
{"t":1900.5,"v":-20.3},{"t":1901.5,"v":-21.9},{"t":1903.5,"v":-19.6},{"t":1904.5,"v":-22.7},{"t":1905.5,"v":-20.8},{"t":1907.5,"v":-21.4},{"t":1908.5,"v":-19.0},{"t":1909.5,"v":-22.3},
{"t":1910.5,"v":-19.7},{"t":1911.5,"v":-21.3},{"t":1913.5,"v":-19.0},{"t":1914.5,"v":-22.1},{"t":1915.5,"v":-20.2},{"t":1917.5,"v":-20.8},{"t":1918.5,"v":-18.4},{"t":1919.5,"v":-21.7},
{"t":1920.5,"v":-18.9},{"t":1921.5,"v":-20.5},{"t":1923.5,"v":-18.2},{"t":1924.5,"v":-21.3},{"t":1925.5,"v":-19.4},{"t":1927.5,"v":-20.0},{"t":1928.5,"v":-17.6},{"t":1929.5,"v":-20.9},
{"t":1930.5,"v":-18.4},{"t":1931.5,"v":-20.0},{"t":1933.5,"v":-17.7},{"t":1934.5,"v":-20.8},{"t":1935.5,"v":-18.9},{"t":1937.5,"v":-19.5},{"t":1938.5,"v":-17.1},{"t":1939.5,"v":-20.4},
{"t":1940.5,"v":-18.3},{"t":1941.5,"v":-19.9},{"t":1943.5,"v":-17.6},{"t":1944.5,"v":-20.7},{"t":1945.5,"v":-18.8},{"t":1947.5,"v":-19.4},{"t":1948.5,"v":-17.0},{"t":1949.5,"v":-20.3},
{"t":1950.5,"v":-18.8},{"t":1951.5,"v":-20.4},{"t":1953.5,"v":-18.1},{"t":1954.5,"v":-21.2},{"t":1955.5,"v":-19.3},{"t":1957.5,"v":-19.9},{"t":1958.5,"v":-17.5},{"t":1959.5,"v":-20.8},
{"t":1960.5,"v":-19.2},{"t":1961.5,"v":-20.8},{"t":1963.5,"v":-18.5},{"t":1964.5,"v":-21.6},{"t":1965.5,"v":-19.7},{"t":1967.5,"v":-20.3},{"t":1968.5,"v":-17.9},{"t":1969.5,"v":-21.2},
{"t":1970.5,"v":-19.3},{"t":1971.5,"v":-20.9},{"t":1973.5,"v":-18.6},{"t":1974.5,"v":-21.7},{"t":1975.5,"v":-19.8},{"t":1977.5,"v":-20.4},{"t":1978.5,"v":-18.0},{"t":1979.5,"v":-21.3},
{"t":1980.5,"v":-19.0},{"t":1981.5,"v":-20.6},{"t":1983.5,"v":-18.3},{"t":1984.5,"v":-21.4},{"t":1985.5,"v":-19.5},{"t":1987.5,"v":-20.1},{"t":1988.5,"v":-17.7},{"t":1989.5,"v":-21.0},
{"t":1990.5,"v":-19.1},{"t":1991.5,"v":-20.7},{"t":1993.5,"v":-18.4},{"t":1994.5,"v":-21.5},{"t":1995.5,"v":-19.6},{"t":1997.5,"v":-20.2},{"t":1998.5,"v":-17.8},{"t":1999.5,"v":-21.1},
{"t":455,"v":-15.0},{"t":461,"v":-15.8},{"t":456,"v":-15.1},{"t":538,"v":-14.8},{"t":551,"v":-15.5},{"t":553,"v":-28.3},{"t":553.5,"v":-28.5},{"t":621,"v":-27.9},{"t":474,"v":-26.1},{"t":474.5,"v":-27.4},
{"t":444,"v":-26.9},{"t":440,"v":-27.4},{"t":502,"v":-26.3},{"t":572,"v":-27.6},{"t":571,"v":-26.3},{"t":589,"v":-26.7},{"t":657,"v":-26.9},{"t":665,"v":-27.3},{"t":643,"v":-27.5},{"t":425.5,"v":-17.3},
{"t":437.5,"v":-17.0},{"t":462,"v":-16.7},{"t":491,"v":-16.8},{"t":531,"v":-16.4},{"t":543,"v":-16.8},{"t":608,"v":-16.4},{"t":617,"v":-16.2},{"t":624,"v":-16.7},{"t":720.5,"v":-16.4},{"t":722,"v":-16.8},
{"t":723.5,"v":-17.1},{"t":713,"v":-16.7},{"t":688,"v":-17.7},{"t":841.4,"v":-15.2},{"t":841.6,"v":-15.5},{"t":840.4,"v":-15.8},{"t":857,"v":-14.8},{"t":882,"v":-15.6},{"t":881,"v":-15.9},{"t":738.2,"v":-15.5},
{"t":931.6,"v":-16.2},{"t":963.5,"v":-16.4},{"t":989.4,"v":-16.2},{"t":1031,"v":-16.4},{"t":940.4,"v":-28.6},{"t":919.5,"v":-27.9},{"t":976.9,"v":-27.9},{"t":975.8,"v":-27.3},{"t":784.1,"v":-27.0},{"t":814.3,"v":-26.4},
{"t":905,"v":-27.7},{"t":1029,"v":-27.3},{"t":885.2,"v":-27.9},{"t":750.7,"v":-25.9},{"t":833,"v":-25.9},{"t":1323.3,"v":-12.6},{"t":1323.5,"v":-12.9},{"t":1336.5,"v":-15.2},{"t":1217.3,"v":-15.2},{"t":1193.7,"v":-15.6},
{"t":1164.5,"v":-15.4},{"t":1137.4,"v":-15.7},{"t":1242.7,"v":-15.7},{"t":1061.4,"v":-16.0},{"t":1324,"v":-16.2},{"t":1130.2,"v":-29.5},{"t":1175,"v":-28.7},{"t":1176,"v":-28.3},{"t":1218.7,"v":-28.3},{"t":1268.7,"v":-28.2},
{"t":1319.8,"v":-28.6},{"t":1357.3,"v":-29.0},{"t":1073.9,"v":-28.1},{"t":1320,"v":-28.3},{"t":1333.3,"v":-26.9},{"t":1468.6,"v":-15.2},{"t":1644.1,"v":-15.1},{"t":1639.9,"v":-15.6},{"t":1639.5,"v":-15.9},{"t":1687.8,"v":-16.0},
{"t":1431.5,"v":-15.9},{"t":1418,"v":-15.8},{"t":1475.3,"v":-16.9},{"t":1446.1,"v":-28.8},{"t":1446.3,"v":-29.0},{"t":1550.7,"v":-28.9},{"t":1550.9,"v":-28.5},{"t":1604.5,"v":-28.3},{"t":1604.7,"v":-29.3},{"t":1604.3,"v":-29.5},
{"t":1519,"v":-28.7},{"t":1380.4,"v":-28.2},{"t":1564.9,"v":-27.2},{"t":1496.1,"v":-27.3},{"t":1992.4,"v":-13.8},{"t":1992.6,"v":-15.0},{"t":1922.6,"v":-14.6},{"t":1923.6,"v":-15.5},{"t":1957.5,"v":-15.0},{"t":1892.8,"v":-15.2},
{"t":1743.9,"v":-15.0},{"t":1863,"v":-15.6},{"t":1688.4,"v":-15.9},{"t":1787,"v":-29.3},{"t":1785,"v":-29.7},{"t":1782.9,"v":-29.6},{"t":1694.6,"v":-28.4},{"t":1814.7,"v":-28.2},{"t":1840.4,"v":-28.3},{"t":1855.8,"v":-28.4},
{"t":1899,"v":-25.8},{"t":1992.2,"v":-27.4},{"t":1997.5,"v":-26.6},{"t":1976,"v":-27.0},{"t":1995,"v":-16.2},{"t":1993,"v":-17.5},{"t":1998,"v":-16.8},{"t":1994.5,"v":-24.8},{"t":1996,"v":-25.5},{"t":1990,"v":-23.5}
],
"raw2": [
{"t":432,"v":-20.1},{"t":436,"v":-22.4},{"t":438,"v":-19.0},{"t":442,"v":-22.0},{"t":446,"v":-19.6},{"t":448,"v":-23.4},{"t":452,"v":-19.3},{"t":456,"v":-21.6},{"t":458,"v":-18.2},
{"t":462,"v":-20.8},{"t":466,"v":-18.4},{"t":468,"v":-22.2},{"t":472,"v":-20.0},{"t":476,"v":-22.3},{"t":478,"v":-18.9},{"t":482,"v":-21.9},{"t":486,"v":-19.5},{"t":488,"v":-23.3},
{"t":492,"v":-20.4},{"t":496,"v":-22.7},{"t":498,"v":-19.3},{"t":502,"v":-22.6},{"t":506,"v":-20.2},{"t":508,"v":-24.0},{"t":512,"v":-20.7},{"t":516,"v":-23.0},{"t":518,"v":-19.6},
{"t":522,"v":-21.4},{"t":526,"v":-19.0},{"t":528,"v":-22.8},{"t":532,"v":-19.5},{"t":536,"v":-21.8},{"t":538,"v":-18.4},{"t":542,"v":-21.5},{"t":546,"v":-19.1},{"t":548,"v":-22.9},
{"t":552,"v":-20.3},{"t":556,"v":-22.6},{"t":558,"v":-19.2},{"t":562,"v":-22.3},{"t":566,"v":-19.9},{"t":568,"v":-23.7},{"t":572,"v":-21.0},{"t":576,"v":-23.3},{"t":578,"v":-19.9},
{"t":582,"v":-22.9},{"t":586,"v":-20.5},{"t":588,"v":-24.3},{"t":592,"v":-21.1},{"t":596,"v":-23.4},{"t":598,"v":-20.0},{"t":602,"v":-22.7},{"t":606,"v":-20.3},{"t":608,"v":-24.1},
{"t":612,"v":-20.6},{"t":616,"v":-22.9},{"t":618,"v":-19.5},{"t":622,"v":-22.1},{"t":626,"v":-19.7},{"t":628,"v":-23.5},{"t":632,"v":-20.1},{"t":636,"v":-22.4},{"t":638,"v":-19.0},
{"t":642,"v":-21.8},{"t":646,"v":-19.4},{"t":648,"v":-23.2},{"t":652,"v":-20.5},{"t":656,"v":-22.8},{"t":658,"v":-19.4},{"t":662,"v":-22.5},{"t":666,"v":-20.1},{"t":668,"v":-23.9},
{"t":672,"v":-21.1},{"t":676,"v":-23.4},{"t":678,"v":-20.0},{"t":682,"v":-21.8},{"t":686,"v":-19.4},{"t":688,"v":-23.2},{"t":692,"v":-19.6},{"t":696,"v":-21.9},{"t":698,"v":-18.5},
{"t":700.5,"v":-19.9},{"t":702.5,"v":-22.7},{"t":704.5,"v":-18.8},{"t":705.5,"v":-21.7},{"t":707.5,"v":-20.4},{"t":708.5,"v":-23.8},
{"t":710.5,"v":-21.7},{"t":712.5,"v":-19.6},{"t":714.5,"v":-20.7},{"t":715.5,"v":-17.8},{"t":717.5,"v":-22.5},{"t":718.5,"v":-18.9},
{"t":720.5,"v":-19.2},{"t":722.5,"v":-17.8},{"t":724.5,"v":-22.1},{"t":725.5,"v":-20.6},{"t":727.5,"v":-16.7},{"t":728.5,"v":-20.8},
{"t":730.5,"v":-18.6},{"t":732.5,"v":-21.4},{"t":734.5,"v":-17.5},{"t":735.5,"v":-20.4},{"t":737.5,"v":-19.1},{"t":738.5,"v":-22.5},
{"t":740.5,"v":-21.8},{"t":742.5,"v":-19.7},{"t":744.5,"v":-20.8},{"t":745.5,"v":-17.9},{"t":747.5,"v":-22.6},{"t":748.5,"v":-19.0},
{"t":750.5,"v":-20.7},{"t":752.5,"v":-19.3},{"t":754.5,"v":-23.6},{"t":755.5,"v":-22.1},{"t":757.5,"v":-18.2},{"t":758.5,"v":-22.3},
{"t":760.5,"v":-20.0},{"t":762.5,"v":-22.8},{"t":764.5,"v":-18.9},{"t":765.5,"v":-21.8},{"t":767.5,"v":-20.5},{"t":768.5,"v":-23.9},
{"t":770.5,"v":-22.5},{"t":772.5,"v":-20.4},{"t":774.5,"v":-21.5},{"t":775.5,"v":-18.6},{"t":777.5,"v":-23.3},{"t":778.5,"v":-19.7},
{"t":780.5,"v":-20.8},{"t":782.5,"v":-19.4},{"t":784.5,"v":-23.7},{"t":785.5,"v":-22.2},{"t":787.5,"v":-18.3},{"t":788.5,"v":-22.4},
{"t":790.5,"v":-20.6},{"t":792.5,"v":-23.4},{"t":794.5,"v":-19.5},{"t":795.5,"v":-22.4},{"t":797.5,"v":-21.1},{"t":798.5,"v":-24.5},
{"t":800.5,"v":-23.5},{"t":802.5,"v":-21.4},{"t":804.5,"v":-22.5},{"t":805.5,"v":-19.6},{"t":807.5,"v":-24.3},{"t":808.5,"v":-20.7},
{"t":810.5,"v":-21.5},{"t":812.5,"v":-20.1},{"t":814.5,"v":-24.4},{"t":815.5,"v":-22.9},{"t":817.5,"v":-19.0},{"t":818.5,"v":-23.1},
{"t":820.5,"v":-20.1},{"t":822.5,"v":-22.9},{"t":824.5,"v":-19.0},{"t":825.5,"v":-21.9},{"t":827.5,"v":-20.6},{"t":828.5,"v":-24.0},
{"t":830.5,"v":-22.1},{"t":832.5,"v":-20.0},{"t":834.5,"v":-21.1},{"t":835.5,"v":-18.2},{"t":837.5,"v":-22.9},{"t":838.5,"v":-19.3},
{"t":840.5,"v":-20.5},{"t":842.5,"v":-19.1},{"t":844.5,"v":-23.4},{"t":845.5,"v":-21.9},{"t":847.5,"v":-18.0},{"t":848.5,"v":-22.1},
{"t":850.5,"v":-19.8},{"t":852.5,"v":-22.6},{"t":854.5,"v":-18.7},{"t":855.5,"v":-21.6},{"t":857.5,"v":-20.3},{"t":858.5,"v":-23.7},
{"t":860.5,"v":-22.8},{"t":862.5,"v":-20.7},{"t":864.5,"v":-21.8},{"t":865.5,"v":-18.9},{"t":867.5,"v":-23.6},{"t":868.5,"v":-20.0},
{"t":870.5,"v":-21.0},{"t":872.5,"v":-19.6},{"t":874.5,"v":-23.9},{"t":875.5,"v":-22.4},{"t":877.5,"v":-18.5},{"t":878.5,"v":-22.6},
{"t":880.5,"v":-20.2},{"t":882.5,"v":-23.0},{"t":884.5,"v":-19.1},{"t":885.5,"v":-22.0},{"t":887.5,"v":-20.7},{"t":888.5,"v":-24.1},
{"t":890.5,"v":-22.8},{"t":892.5,"v":-20.7},{"t":894.5,"v":-21.8},{"t":895.5,"v":-18.9},{"t":897.5,"v":-23.6},{"t":898.5,"v":-20.0},
{"t":900.5,"v":-21.2},{"t":902.5,"v":-19.8},{"t":904.5,"v":-24.1},{"t":905.5,"v":-22.6},{"t":907.5,"v":-18.7},{"t":908.5,"v":-22.8},
{"t":910.5,"v":-20.7},{"t":912.5,"v":-23.5},{"t":914.5,"v":-19.6},{"t":915.5,"v":-22.5},{"t":917.5,"v":-21.2},{"t":918.5,"v":-24.6},
{"t":920.5,"v":-22.3},{"t":922.5,"v":-20.2},{"t":924.5,"v":-21.3},{"t":925.5,"v":-18.4},{"t":927.5,"v":-23.1},{"t":928.5,"v":-19.5},
{"t":930.5,"v":-20.5},{"t":932.5,"v":-19.1},{"t":934.5,"v":-23.4},{"t":935.5,"v":-21.9},{"t":937.5,"v":-18.0},{"t":938.5,"v":-22.1},
{"t":940.5,"v":-20.5},{"t":942.5,"v":-23.3},{"t":944.5,"v":-19.4},{"t":945.5,"v":-22.3},{"t":947.5,"v":-21.0},{"t":948.5,"v":-24.4},
{"t":950.5,"v":-22.3},{"t":952.5,"v":-20.2},{"t":954.5,"v":-21.3},{"t":955.5,"v":-18.4},{"t":957.5,"v":-23.1},{"t":958.5,"v":-19.5},
{"t":960.5,"v":-20.2},{"t":962.5,"v":-18.8},{"t":964.5,"v":-23.1},{"t":965.5,"v":-21.6},{"t":967.5,"v":-17.7},{"t":968.5,"v":-21.8},
{"t":970.5,"v":-20.2},{"t":972.5,"v":-23.0},{"t":974.5,"v":-19.1},{"t":975.5,"v":-22.0},{"t":977.5,"v":-20.7},{"t":978.5,"v":-24.1},
{"t":980.5,"v":-22.8},{"t":982.5,"v":-20.7},{"t":984.5,"v":-21.8},{"t":985.5,"v":-18.9},{"t":987.5,"v":-23.6},{"t":988.5,"v":-20.0},
{"t":990.5,"v":-20.7},{"t":992.5,"v":-19.3},{"t":994.5,"v":-23.6},{"t":995.5,"v":-22.1},{"t":997.5,"v":-18.2},{"t":998.5,"v":-22.3},
{"t":1000.5,"v":-20.7},{"t":1002.5,"v":-23.5},{"t":1004.5,"v":-19.6},{"t":1005.5,"v":-22.5},{"t":1007.5,"v":-21.2},{"t":1008.5,"v":-24.6},
{"t":1010.5,"v":-23.2},{"t":1012.5,"v":-21.1},{"t":1014.5,"v":-22.2},{"t":1015.5,"v":-19.3},{"t":1017.5,"v":-24.0},{"t":1018.5,"v":-20.4},
{"t":1020.5,"v":-20.8},{"t":1022.5,"v":-19.4},{"t":1024.5,"v":-23.7},{"t":1025.5,"v":-22.2},{"t":1027.5,"v":-18.3},{"t":1028.5,"v":-22.4},
{"t":1030.5,"v":-20.0},{"t":1032.5,"v":-22.8},{"t":1034.5,"v":-18.9},{"t":1035.5,"v":-21.8},{"t":1037.5,"v":-20.5},{"t":1038.5,"v":-23.9},
{"t":1040.5,"v":-23.1},{"t":1042.5,"v":-21.0},{"t":1044.5,"v":-22.1},{"t":1045.5,"v":-19.2},{"t":1047.5,"v":-23.9},{"t":1048.5,"v":-20.3},
{"t":1050.5,"v":-21.0},{"t":1052.5,"v":-19.6},{"t":1054.5,"v":-23.9},{"t":1055.5,"v":-22.4},{"t":1057.5,"v":-18.5},{"t":1058.5,"v":-22.6},
{"t":1060.5,"v":-20.0},{"t":1062.5,"v":-22.8},{"t":1064.5,"v":-18.9},{"t":1065.5,"v":-21.8},{"t":1067.5,"v":-20.5},{"t":1068.5,"v":-23.9},
{"t":1070.5,"v":-23.0},{"t":1072.5,"v":-20.9},{"t":1074.5,"v":-22.0},{"t":1075.5,"v":-19.1},{"t":1077.5,"v":-23.8},{"t":1078.5,"v":-20.2},
{"t":1080.5,"v":-20.9},{"t":1082.5,"v":-19.5},{"t":1084.5,"v":-23.8},{"t":1085.5,"v":-22.3},{"t":1087.5,"v":-18.4},{"t":1088.5,"v":-22.5},
{"t":1090.5,"v":-19.9},{"t":1092.5,"v":-22.7},{"t":1094.5,"v":-18.8},{"t":1095.5,"v":-21.7},{"t":1097.5,"v":-20.4},{"t":1098.5,"v":-23.8},
{"t":1100.5,"v":-22.3},{"t":1102.5,"v":-20.2},{"t":1104.5,"v":-21.3},{"t":1105.5,"v":-18.4},{"t":1107.5,"v":-23.1},{"t":1108.5,"v":-19.5},
{"t":1110.5,"v":-20.3},{"t":1112.5,"v":-18.9},{"t":1114.5,"v":-23.2},{"t":1115.5,"v":-21.7},{"t":1117.5,"v":-17.8},{"t":1118.5,"v":-21.9},
{"t":1120.5,"v":-20.3},{"t":1122.5,"v":-23.1},{"t":1124.5,"v":-19.2},{"t":1125.5,"v":-22.1},{"t":1127.5,"v":-20.8},{"t":1128.5,"v":-24.2},
{"t":1130.5,"v":-22.1},{"t":1132.5,"v":-20.0},{"t":1134.5,"v":-21.1},{"t":1135.5,"v":-18.2},{"t":1137.5,"v":-22.9},{"t":1138.5,"v":-19.3},
{"t":1140.5,"v":-19.9},{"t":1142.5,"v":-18.5},{"t":1144.5,"v":-22.8},{"t":1145.5,"v":-21.3},{"t":1147.5,"v":-17.4},{"t":1148.5,"v":-21.5},
{"t":1150.5,"v":-19.7},{"t":1152.5,"v":-22.5},{"t":1154.5,"v":-18.6},{"t":1155.5,"v":-21.5},{"t":1157.5,"v":-20.2},{"t":1158.5,"v":-23.6},
{"t":1160.5,"v":-22.4},{"t":1162.5,"v":-20.3},{"t":1164.5,"v":-21.4},{"t":1165.5,"v":-18.5},{"t":1167.5,"v":-23.2},{"t":1168.5,"v":-19.6},
{"t":1170.5,"v":-20.8},{"t":1172.5,"v":-19.4},{"t":1174.5,"v":-23.7},{"t":1175.5,"v":-22.2},{"t":1177.5,"v":-18.3},{"t":1178.5,"v":-22.4},
{"t":1180.5,"v":-20.1},{"t":1182.5,"v":-22.9},{"t":1184.5,"v":-19.0},{"t":1185.5,"v":-21.9},{"t":1187.5,"v":-20.6},{"t":1188.5,"v":-24.0},
{"t":1190.5,"v":-22.1},{"t":1192.5,"v":-20.0},{"t":1194.5,"v":-21.1},{"t":1195.5,"v":-18.2},{"t":1197.5,"v":-22.9},{"t":1198.5,"v":-19.3},
{"t":1200.5,"v":-20.3},{"t":1202.5,"v":-18.9},{"t":1204.5,"v":-23.2},{"t":1205.5,"v":-21.7},{"t":1207.5,"v":-17.8},{"t":1208.5,"v":-21.9},
{"t":1210.5,"v":-20.6},{"t":1212.5,"v":-23.4},{"t":1214.5,"v":-19.5},{"t":1215.5,"v":-22.4},{"t":1217.5,"v":-21.1},{"t":1218.5,"v":-24.5},
{"t":1220.5,"v":-23.1},{"t":1222.5,"v":-21.0},{"t":1224.5,"v":-22.1},{"t":1225.5,"v":-19.2},{"t":1227.5,"v":-23.9},{"t":1228.5,"v":-20.3},
{"t":1230.5,"v":-20.9},{"t":1232.5,"v":-19.5},{"t":1234.5,"v":-23.8},{"t":1235.5,"v":-22.3},{"t":1237.5,"v":-18.4},{"t":1238.5,"v":-22.5},
{"t":1240.5,"v":-20.0},{"t":1242.5,"v":-22.8},{"t":1244.5,"v":-18.9},{"t":1245.5,"v":-21.8},{"t":1247.5,"v":-20.5},{"t":1248.5,"v":-23.9},
{"t":1250.5,"v":-23.1},{"t":1252.5,"v":-21.0},{"t":1254.5,"v":-22.1},{"t":1255.5,"v":-19.2},{"t":1257.5,"v":-23.9},{"t":1258.5,"v":-20.3},
{"t":1260.5,"v":-21.8},{"t":1262.5,"v":-20.4},{"t":1264.5,"v":-24.7},{"t":1265.5,"v":-23.2},{"t":1267.5,"v":-19.3},{"t":1268.5,"v":-23.4},
{"t":1270.5,"v":-20.2},{"t":1272.5,"v":-23.0},{"t":1274.5,"v":-19.1},{"t":1275.5,"v":-22.0},{"t":1277.5,"v":-20.7},{"t":1278.5,"v":-24.1},
{"t":1280.5,"v":-22.6},{"t":1282.5,"v":-20.5},{"t":1284.5,"v":-21.6},{"t":1285.5,"v":-18.7},{"t":1287.5,"v":-23.4},{"t":1288.5,"v":-19.8},
{"t":1290.5,"v":-20.5},{"t":1292.5,"v":-19.1},{"t":1294.5,"v":-23.4},{"t":1295.5,"v":-21.9},{"t":1297.5,"v":-18.0},{"t":1298.5,"v":-22.1},
{"t":1300.5,"v":-20.2},{"t":1302.5,"v":-23.0},{"t":1304.5,"v":-19.1},{"t":1305.5,"v":-22.0},{"t":1307.5,"v":-20.7},{"t":1308.5,"v":-24.1},
{"t":1310.5,"v":-23.3},{"t":1312.5,"v":-21.2},{"t":1314.5,"v":-22.3},{"t":1315.5,"v":-19.4},{"t":1317.5,"v":-24.1},{"t":1318.5,"v":-20.5},
{"t":1320.5,"v":-21.2},{"t":1322.5,"v":-19.8},{"t":1324.5,"v":-24.1},{"t":1325.5,"v":-22.6},{"t":1327.5,"v":-18.7},{"t":1328.5,"v":-22.8},
{"t":1330.5,"v":-19.9},{"t":1332.5,"v":-22.7},{"t":1334.5,"v":-18.8},{"t":1335.5,"v":-21.7},{"t":1337.5,"v":-20.4},{"t":1338.5,"v":-23.8},
{"t":1340.5,"v":-22.9},{"t":1342.5,"v":-20.8},{"t":1344.5,"v":-21.9},{"t":1345.5,"v":-19.0},{"t":1347.5,"v":-23.7},{"t":1348.5,"v":-20.1},
{"t":1350.5,"v":-21.5},{"t":1352.5,"v":-20.1},{"t":1354.5,"v":-24.4},{"t":1355.5,"v":-22.9},{"t":1357.5,"v":-19.0},{"t":1358.5,"v":-23.1},
{"t":1360.5,"v":-20.6},{"t":1362.5,"v":-23.4},{"t":1364.5,"v":-19.5},{"t":1365.5,"v":-22.4},{"t":1367.5,"v":-21.1},{"t":1368.5,"v":-24.5},
{"t":1370.5,"v":-22.7},{"t":1372.5,"v":-20.6},{"t":1374.5,"v":-21.7},{"t":1375.5,"v":-18.8},{"t":1377.5,"v":-23.5},{"t":1378.5,"v":-19.9},
{"t":1380.5,"v":-21.3},{"t":1382.5,"v":-19.9},{"t":1384.5,"v":-24.2},{"t":1385.5,"v":-22.7},{"t":1387.5,"v":-18.8},{"t":1388.5,"v":-22.9},
{"t":1390.5,"v":-21.0},{"t":1392.5,"v":-23.8},{"t":1394.5,"v":-19.9},{"t":1395.5,"v":-22.8},{"t":1397.5,"v":-21.5},{"t":1398.5,"v":-24.9},
{"t":1400.5,"v":-23.6},{"t":1402.5,"v":-21.5},{"t":1404.5,"v":-22.6},{"t":1405.5,"v":-19.7},{"t":1407.5,"v":-24.4},{"t":1408.5,"v":-20.8},
{"t":1410.5,"v":-21.1},{"t":1412.5,"v":-19.7},{"t":1414.5,"v":-24.0},{"t":1415.5,"v":-22.5},{"t":1417.5,"v":-18.6},{"t":1418.5,"v":-22.7},
{"t":1420.5,"v":-19.8},{"t":1422.5,"v":-22.6},{"t":1424.5,"v":-18.7},{"t":1425.5,"v":-21.6},{"t":1427.5,"v":-20.3},{"t":1428.5,"v":-23.7},
{"t":1430.5,"v":-22.1},{"t":1432.5,"v":-20.0},{"t":1434.5,"v":-21.1},{"t":1435.5,"v":-18.2},{"t":1437.5,"v":-22.9},{"t":1438.5,"v":-19.3},
{"t":1440.5,"v":-20.8},{"t":1442.5,"v":-19.4},{"t":1444.5,"v":-23.7},{"t":1445.5,"v":-22.2},{"t":1447.5,"v":-18.3},{"t":1448.5,"v":-22.4},
{"t":1450.5,"v":-21.6},{"t":1452.5,"v":-24.4},{"t":1454.5,"v":-20.5},{"t":1455.5,"v":-23.4},{"t":1457.5,"v":-22.1},{"t":1458.5,"v":-25.5},
{"t":1460.5,"v":-23.6},{"t":1462.5,"v":-21.5},{"t":1464.5,"v":-22.6},{"t":1465.5,"v":-19.7},{"t":1467.5,"v":-24.4},{"t":1468.5,"v":-20.8},
{"t":1470.5,"v":-20.8},{"t":1472.5,"v":-19.4},{"t":1474.5,"v":-23.7},{"t":1475.5,"v":-22.2},{"t":1477.5,"v":-18.3},{"t":1478.5,"v":-22.4},
{"t":1480.5,"v":-20.2},{"t":1482.5,"v":-23.0},{"t":1484.5,"v":-19.1},{"t":1485.5,"v":-22.0},{"t":1487.5,"v":-20.7},{"t":1488.5,"v":-24.1},
{"t":1490.5,"v":-23.3},{"t":1492.5,"v":-21.2},{"t":1494.5,"v":-22.3},{"t":1495.5,"v":-19.4},{"t":1497.5,"v":-24.1},{"t":1498.5,"v":-20.5},
{"t":1500.5,"v":-22.3},{"t":1502.5,"v":-20.9},{"t":1504.5,"v":-25.2},{"t":1505.5,"v":-23.7},{"t":1507.5,"v":-19.8},{"t":1508.5,"v":-23.9},
{"t":1510.5,"v":-21.8},{"t":1512.5,"v":-24.6},{"t":1514.5,"v":-20.7},{"t":1515.5,"v":-23.6},{"t":1517.5,"v":-22.3},{"t":1518.5,"v":-25.7},
{"t":1520.5,"v":-23.5},{"t":1522.5,"v":-21.4},{"t":1524.5,"v":-22.5},{"t":1525.5,"v":-19.6},{"t":1527.5,"v":-24.3},{"t":1528.5,"v":-20.7},
{"t":1530.5,"v":-21.1},{"t":1532.5,"v":-19.7},{"t":1534.5,"v":-24.0},{"t":1535.5,"v":-22.5},{"t":1537.5,"v":-18.6},{"t":1538.5,"v":-22.7},
{"t":1540.5,"v":-20.3},{"t":1542.5,"v":-23.1},{"t":1544.5,"v":-19.2},{"t":1545.5,"v":-22.1},{"t":1547.5,"v":-20.8},{"t":1548.5,"v":-24.2},
{"t":1550.5,"v":-23.1},{"t":1552.5,"v":-21.0},{"t":1554.5,"v":-22.1},{"t":1555.5,"v":-19.2},{"t":1557.5,"v":-23.9},{"t":1558.5,"v":-20.3},
{"t":1560.5,"v":-21.3},{"t":1562.5,"v":-19.9},{"t":1564.5,"v":-24.2},{"t":1565.5,"v":-22.7},{"t":1567.5,"v":-18.8},{"t":1568.5,"v":-22.9},
{"t":1570.5,"v":-20.3},{"t":1572.5,"v":-23.1},{"t":1574.5,"v":-19.2},{"t":1575.5,"v":-22.1},{"t":1577.5,"v":-20.8},{"t":1578.5,"v":-24.2},
{"t":1580.5,"v":-23.1},{"t":1582.5,"v":-21.0},{"t":1584.5,"v":-22.1},{"t":1585.5,"v":-19.2},{"t":1587.5,"v":-23.9},{"t":1588.5,"v":-20.3},
{"t":1590.5,"v":-21.9},{"t":1592.5,"v":-20.5},{"t":1594.5,"v":-24.8},{"t":1595.5,"v":-23.3},{"t":1597.5,"v":-19.4},{"t":1598.5,"v":-23.5},
{"t":1600.5,"v":-21.0},{"t":1602.5,"v":-23.8},{"t":1604.5,"v":-19.9},{"t":1605.5,"v":-22.8},{"t":1607.5,"v":-21.5},{"t":1608.5,"v":-24.9},
{"t":1610.5,"v":-23.5},{"t":1612.5,"v":-21.4},{"t":1614.5,"v":-22.5},{"t":1615.5,"v":-19.6},{"t":1617.5,"v":-24.3},{"t":1618.5,"v":-20.7},
{"t":1620.5,"v":-21.7},{"t":1622.5,"v":-20.3},{"t":1624.5,"v":-24.6},{"t":1625.5,"v":-23.1},{"t":1627.5,"v":-19.2},{"t":1628.5,"v":-23.3},
{"t":1630.5,"v":-20.8},{"t":1632.5,"v":-23.6},{"t":1634.5,"v":-19.7},{"t":1635.5,"v":-22.6},{"t":1637.5,"v":-21.3},{"t":1638.5,"v":-24.7},
{"t":1640.5,"v":-23.2},{"t":1642.5,"v":-21.1},{"t":1644.5,"v":-22.2},{"t":1645.5,"v":-19.3},{"t":1647.5,"v":-24.0},{"t":1648.5,"v":-20.4},
{"t":1650.5,"v":-21.9},{"t":1652.5,"v":-20.5},{"t":1654.5,"v":-24.8},{"t":1655.5,"v":-23.3},{"t":1657.5,"v":-19.4},{"t":1658.5,"v":-23.5},
{"t":1660.5,"v":-21.2},{"t":1662.5,"v":-24.0},{"t":1664.5,"v":-20.1},{"t":1665.5,"v":-23.0},{"t":1667.5,"v":-21.7},{"t":1668.5,"v":-25.1},
{"t":1670.5,"v":-23.3},{"t":1672.5,"v":-21.2},{"t":1674.5,"v":-22.3},{"t":1675.5,"v":-19.4},{"t":1677.5,"v":-24.1},{"t":1678.5,"v":-20.5},
{"t":1680.5,"v":-21.5},{"t":1682.5,"v":-20.1},{"t":1684.5,"v":-24.4},{"t":1685.5,"v":-22.9},{"t":1687.5,"v":-19.0},{"t":1688.5,"v":-23.1},
{"t":1690.5,"v":-20.9},{"t":1692.5,"v":-23.7},{"t":1694.5,"v":-19.8},{"t":1695.5,"v":-22.7},{"t":1697.5,"v":-21.4},{"t":1698.5,"v":-24.8},
{"t":1700.5,"v":-23.3},{"t":1702.5,"v":-21.2},{"t":1704.5,"v":-22.3},{"t":1705.5,"v":-19.4},{"t":1707.5,"v":-24.1},{"t":1708.5,"v":-20.5},
{"t":1710.5,"v":-21.2},{"t":1712.5,"v":-19.8},{"t":1714.5,"v":-24.1},{"t":1715.5,"v":-22.6},{"t":1717.5,"v":-18.7},{"t":1718.5,"v":-22.8},
{"t":1720.5,"v":-20.4},{"t":1722.5,"v":-23.2},{"t":1724.5,"v":-19.3},{"t":1725.5,"v":-22.2},{"t":1727.5,"v":-20.9},{"t":1728.5,"v":-24.3},
{"t":1730.5,"v":-23.3},{"t":1732.5,"v":-21.2},{"t":1734.5,"v":-22.3},{"t":1735.5,"v":-19.4},{"t":1737.5,"v":-24.1},{"t":1738.5,"v":-20.5},
{"t":1740.5,"v":-21.5},{"t":1742.5,"v":-20.1},{"t":1744.5,"v":-24.4},{"t":1745.5,"v":-22.9},{"t":1747.5,"v":-19.0},{"t":1748.5,"v":-23.1},
{"t":1750.5,"v":-20.3},{"t":1752.5,"v":-23.1},{"t":1754.5,"v":-19.2},{"t":1755.5,"v":-22.1},{"t":1757.5,"v":-20.8},{"t":1758.5,"v":-24.2},
{"t":1760.5,"v":-23.8},{"t":1762.5,"v":-21.7},{"t":1764.5,"v":-22.8},{"t":1765.5,"v":-19.9},{"t":1767.5,"v":-24.6},{"t":1768.5,"v":-21.0},
{"t":1770.5,"v":-22.6},{"t":1772.5,"v":-21.2},{"t":1774.5,"v":-25.5},{"t":1775.5,"v":-24.0},{"t":1777.5,"v":-20.1},{"t":1778.5,"v":-24.2},
{"t":1780.5,"v":-22.5},{"t":1782.5,"v":-25.3},{"t":1784.5,"v":-21.4},{"t":1785.5,"v":-24.3},{"t":1787.5,"v":-23.0},{"t":1788.5,"v":-26.4},
{"t":1790.5,"v":-24.8},{"t":1792.5,"v":-22.7},{"t":1794.5,"v":-23.8},{"t":1795.5,"v":-20.9},{"t":1797.5,"v":-25.6},{"t":1798.5,"v":-22.0},
{"t":1800.5,"v":-22.6},{"t":1802.5,"v":-21.2},{"t":1804.5,"v":-25.5},{"t":1805.5,"v":-24.0},{"t":1807.5,"v":-20.1},{"t":1808.5,"v":-24.2},
{"t":1810.5,"v":-21.8},{"t":1812.5,"v":-24.6},{"t":1814.5,"v":-20.7},{"t":1815.5,"v":-23.6},{"t":1817.5,"v":-22.3},{"t":1818.5,"v":-25.7},
{"t":1820.5,"v":-24.0},{"t":1822.5,"v":-21.9},{"t":1824.5,"v":-23.0},{"t":1825.5,"v":-20.1},{"t":1827.5,"v":-24.8},{"t":1828.5,"v":-21.2},
{"t":1830.5,"v":-22.0},{"t":1832.5,"v":-20.6},{"t":1834.5,"v":-24.9},{"t":1835.5,"v":-23.4},{"t":1837.5,"v":-19.5},{"t":1838.5,"v":-23.6},
{"t":1840.5,"v":-21.0},{"t":1842.5,"v":-23.8},{"t":1844.5,"v":-19.9},{"t":1845.5,"v":-22.8},{"t":1847.5,"v":-21.5},{"t":1848.5,"v":-24.9}
],
"m": [
{"t":428.5,"v":-20.9},{"t":431.7,"v":-20.81},{"t":434.4,"v":-21.0},{"t":437.5,"v":-21.17},{"t":442.7,"v":-21.32},{"t":444.8,"v":-21.02},{"t":446.3,"v":-20.65},{"t":450,"v":-20.19},{"t":454.6,"v":-20.16},{"t":460,"v":-19.99},
{"t":463.6,"v":-20.1},{"t":466.7,"v":-20.5},{"t":470.9,"v":-20.9},{"t":474.4,"v":-21.36},{"t":479.2,"v":-21.13},{"t":484.6,"v":-21.08},{"t":488.6,"v":-21.25},{"t":493.8,"v":-21.34},{"t":497.5,"v":-21.42},{"t":501.7,"v":-21.82},
{"t":505.2,"v":-21.82},{"t":509.4,"v":-21.76},{"t":514.2,"v":-21.25},{"t":518.8,"v":-20.85},{"t":523,"v":-20.42},{"t":527.1,"v":-20.35},{"t":530.3,"v":-20.45},{"t":533.4,"v":-20.31},{"t":537.5,"v":-20.45},{"t":541.7,"v":-20.85},
{"t":544.8,"v":-21.13},{"t":549,"v":-21.13},{"t":554.2,"v":-21.36},{"t":558.4,"v":-21.48},{"t":563.6,"v":-21.65},{"t":566.7,"v":-21.82},{"t":569.8,"v":-21.76},{"t":574,"v":-22.03},{"t":579.2,"v":-22.16},{"t":584.4,"v":-22.1},
{"t":588.6,"v":-21.96},{"t":592.8,"v":-22.14},{"t":596.9,"v":-21.88},{"t":600.1,"v":-21.88},{"t":603.2,"v":-21.82},{"t":606.3,"v":-21.48},{"t":610.5,"v":-21.48},{"t":614.7,"v":-21.08},{"t":618.8,"v":-21.42},{"t":623,"v":-21.02},
{"t":628.2,"v":-20.96},{"t":632.4,"v":-21.08},{"t":636.5,"v":-21.48},{"t":640.7,"v":-20.96},{"t":645.9,"v":-21.3},{"t":650.1,"v":-21.36},{"t":654.2,"v":-21.48},{"t":658.4,"v":-21.48},{"t":662.6,"v":-21.99},{"t":666.8,"v":-22.28},
{"t":670.9,"v":-21.99},{"t":674.7,"v":-21.25},{"t":679.3,"v":-21.13},{"t":683.4,"v":-20.88},{"t":689.7,"v":-20.45},{"t":693.8,"v":-20.79},{"t":698,"v":-21.13},{"t":702.2,"v":-21.13},{"t":706.3,"v":-20.79},{"t":710.5,"v":-20.33},
{"t":715.7,"v":-20.1},{"t":719.9,"v":-19.7},{"t":724,"v":-19.59},{"t":725.7,"v":-19.59},{"t":729.9,"v":-19.76},{"t":735.1,"v":-20.16},{"t":739.3,"v":-20.45},{"t":743.4,"v":-20.79},{"t":747.6,"v":-21.08},{"t":752.8,"v":-21.25},
{"t":759.1,"v":-21.19},{"t":764.3,"v":-21.25},{"t":768.4,"v":-21.3},{"t":772.6,"v":-21.08},{"t":777.8,"v":-21.19},{"t":783,"v":-21.36},{"t":788.2,"v":-21.59},{"t":792.4,"v":-21.88},{"t":796.6,"v":-21.93},{"t":800.7,"v":-22.22},
{"t":806,"v":-22.28},{"t":810.1,"v":-21.99},{"t":814.3,"v":-21.53},{"t":819.5,"v":-21.36},{"t":824.7,"v":-21.25},{"t":827.8,"v":-21.02},{"t":831,"v":-20.7},{"t":835.1,"v":-20.96},{"t":839.3,"v":-21.02},{"t":843.5,"v":-20.85},
{"t":848.7,"v":-20.79},{"t":851.8,"v":-21.13},{"t":853.9,"v":-21.65},{"t":858.1,"v":-21.7},{"t":863.3,"v":-21.42},{"t":868.5,"v":-21.65},{"t":872.7,"v":-21.42},{"t":877.9,"v":-21.42},{"t":883.1,"v":-21.36},{"t":888.3,"v":-21.3},
{"t":893.5,"v":-21.93},{"t":898.7,"v":-21.65},{"t":903.9,"v":-21.7},{"t":909.1,"v":-21.99},{"t":912.2,"v":-21.82},{"t":915.4,"v":-21.7},{"t":918.5,"v":-21.13},{"t":922.7,"v":-20.96},{"t":926.8,"v":-20.96},{"t":931,"v":-20.96},
{"t":935.2,"v":-21.3},{"t":940.4,"v":-21.76},{"t":944.6,"v":-21.36},{"t":949.8,"v":-21.08},{"t":953.9,"v":-20.85},{"t":959.1,"v":-20.62},{"t":963.3,"v":-20.85},{"t":967.5,"v":-21.25},{"t":972.7,"v":-21.48},{"t":978.9,"v":-21.53},
{"t":984.2,"v":-21.36},{"t":989.3,"v":-21.19},{"t":994.6,"v":-21.48},{"t":999.8,"v":-21.88},{"t":1005,"v":-22.05},{"t":1010.2,"v":-21.93},{"t":1015.4,"v":-21.76},{"t":1020.6,"v":-21.25},{"t":1027.9,"v":-21.13},{"t":1033.1,"v":-21.36},
{"t":1037.3,"v":-21.7},{"t":1042.5,"v":-21.99},{"t":1045.5,"v":-21.5},{"t":1048.9,"v":-21.48},{"t":1056.2,"v":-21.08},{"t":1061.4,"v":-21.25},{"t":1066.6,"v":-21.65},{"t":1071.8,"v":-21.76},{"t":1076,"v":-21.82},{"t":1080.1,"v":-21.42},
{"t":1086.4,"v":-21.19},{"t":1091.6,"v":-21.13},{"t":1096.8,"v":-20.9},{"t":1102,"v":-21.08},{"t":1108.3,"v":-20.73},{"t":1113.5,"v":-21.08},{"t":1119.7,"v":-21.65},{"t":1123.9,"v":-21.25},{"t":1128.1,"v":-20.85},{"t":1132.2,"v":-20.73},
{"t":1136.4,"v":-20.5},{"t":1140.6,"v":-20.33},{"t":1144.7,"v":-20.56},{"t":1149.9,"v":-20.9},{"t":1157.2,"v":-21.08},{"t":1163.5,"v":-21.08},{"t":1169.7,"v":-21.3},{"t":1176,"v":-21.65},{"t":1181.2,"v":-21.25},{"t":1185.4,"v":-20.73},
{"t":1191.6,"v":-20.79},{"t":1196.8,"v":-20.9},{"t":1200,"v":-20.79},{"t":1204.1,"v":-21.13},{"t":1208.3,"v":-21.82},{"t":1212.5,"v":-21.82},{"t":1216.6,"v":-21.59},{"t":1219.8,"v":-21.65},{"t":1223.9,"v":-22.05},{"t":1228.1,"v":-21.82},
{"t":1231.2,"v":-21.36},{"t":1235.4,"v":-21.25},{"t":1240.6,"v":-21.19},{"t":1244.8,"v":-21.42},{"t":1250,"v":-21.82},{"t":1255.2,"v":-22.05},{"t":1261.4,"v":-22.33},{"t":1265.6,"v":-22.05},{"t":1268.7,"v":-21.48},{"t":1272.9,"v":-21.3},
{"t":1277.1,"v":-21.48},{"t":1281.2,"v":-21.25},{"t":1286.5,"v":-21.13},{"t":1290.6,"v":-20.96},{"t":1294.8,"v":-21.13},{"t":1300,"v":-21.42},{"t":1305.2,"v":-21.76},{"t":1309.4,"v":-22.05},{"t":1314.6,"v":-21.88},{"t":1319.8,"v":-21.7},
{"t":1325,"v":-21.36},{"t":1331.3,"v":-21.08},{"t":1334.4,"v":-21.36},{"t":1338.5,"v":-21.42},{"t":1343.8,"v":-21.59},{"t":1346.9,"v":-21.93},{"t":1351.1,"v":-22.05},{"t":1356.2,"v":-21.93},{"t":1361.5,"v":-21.76},{"t":1366.7,"v":-21.5},
{"t":1369,"v":-21.33},{"t":1373.2,"v":-21.48},{"t":1380.4,"v":-21.76},{"t":1384.6,"v":-22.05},{"t":1389.8,"v":-22.22},{"t":1394,"v":-22.33},{"t":1398.2,"v":-22.48},{"t":1402.3,"v":-22.22},{"t":1407.5,"v":-21.88},{"t":1412.7,"v":-21.48},
{"t":1418,"v":-21.13},{"t":1422.1,"v":-20.85},{"t":1427.3,"v":-20.68},{"t":1431.5,"v":-20.85},{"t":1435.7,"v":-20.96},{"t":1439.8,"v":-21.25},{"t":1443,"v":-21.88},{"t":1446.1,"v":-22.39},{"t":1449.2,"v":-22.79},{"t":1454.4,"v":-22.68},
{"t":1458.6,"v":-22.51},{"t":1462.8,"v":-22.05},{"t":1468,"v":-21.48},{"t":1473.2,"v":-21.19},{"t":1477.4,"v":-21.25},{"t":1481.5,"v":-21.53},{"t":1485.7,"v":-21.88},{"t":1491.9,"v":-22.05},{"t":1496.1,"v":-22.51},{"t":1501.3,"v":-22.79},
{"t":1506.5,"v":-22.85},{"t":1511.7,"v":-23.02},{"t":1517,"v":-22.85},{"t":1520.1,"v":-22.16},{"t":1525.3,"v":-21.7},{"t":1530.5,"v":-21.59},{"t":1535.7,"v":-21.48},{"t":1539.9,"v":-21.42},{"t":1543,"v":-22.05},{"t":1546.1,"v":-22.16},
{"t":1550.3,"v":-21.82},{"t":1554.5,"v":-22.05},{"t":1558.6,"v":-22.1},{"t":1562.8,"v":-21.59},{"t":1568,"v":-21.48},{"t":1573.2,"v":-21.59},{"t":1577.4,"v":-21.7},{"t":1583.6,"v":-21.93},{"t":1587.8,"v":-22.22},{"t":1592,"v":-22.45},
{"t":1596.1,"v":-22.28},{"t":1601.3,"v":-22.16},{"t":1605.5,"v":-22.05},{"t":1609.7,"v":-22.22},{"t":1614.9,"v":-22.05},{"t":1619.1,"v":-22.16},{"t":1623.2,"v":-22.33},{"t":1628.5,"v":-22.1},{"t":1632.6,"v":-21.93},{"t":1637.8,"v":-21.93},
{"t":1642,"v":-21.88},{"t":1647.2,"v":-22.16},{"t":1652.4,"v":-22.45},{"t":1656.6,"v":-22.56},{"t":1660.7,"v":-22.39},{"t":1664.9,"v":-22.28},{"t":1669.1,"v":-22.05},{"t":1673.2,"v":-21.82},{"t":1677.4,"v":-21.76},{"t":1680.5,"v":-22.05},
{"t":1684.3,"v":-22.28},{"t":1689.4,"v":-22.05},{"t":1695.6,"v":-21.88},{"t":1699.7,"v":-22.1},{"t":1703.8,"v":-21.82},{"t":1708.9,"v":-21.7},{"t":1713.1,"v":-21.53},{"t":1717.2,"v":-21.7},{"t":1720.2,"v":-21.59},{"t":1724.4,"v":-21.88},
{"t":1727.4,"v":-22.05},{"t":1732.6,"v":-21.93},{"t":1737.7,"v":-22.1},{"t":1741.8,"v":-22.05},{"t":1745.9,"v":-21.7},{"t":1749,"v":-21.48},{"t":1753.1,"v":-21.76},{"t":1757.2,"v":-22.22},{"t":1762.4,"v":-22.68},{"t":1767.5,"v":-23.02},
{"t":1772.6,"v":-23.14},{"t":1775.7,"v":-23.54},{"t":1778.8,"v":-23.77},{"t":1782.9,"v":-23.65},{"t":1786,"v":-23.36},{"t":1790.1,"v":-23.48},{"t":1793.2,"v":-23.54},{"t":1798.3,"v":-23.02},{"t":1802.4,"v":-23.14},{"t":1805.5,"v":-23.42},
{"t":1808.6,"v":-23.08},{"t":1813.7,"v":-22.91},{"t":1819.9,"v":-22.74},{"t":1826,"v":-22.56},{"t":1832.2,"v":-22.45},{"t":1838.4,"v":-22.28},{"t":1844.5,"v":-22.05},{"t":1850.7,"v":-21.82},{"t":1856.8,"v":-21.82},{"t":1863,"v":-21.82},
{"t":1869.2,"v":-21.82},{"t":1875.3,"v":-21.82},{"t":1881.5,"v":-21.65},{"t":1887.6,"v":-21.53},{"t":1893.8,"v":-21.36},{"t":1900,"v":-21.25},{"t":1904.1,"v":-20.96},{"t":1908.2,"v":-20.79},{"t":1912.3,"v":-20.56},{"t":1916.4,"v":-20.16},
{"t":1920.5,"v":-19.7},{"t":1925.7,"v":-19.47},{"t":1930.8,"v":-19.3},{"t":1936,"v":-19.24},{"t":1940.2,"v":-19.21},{"t":1944.1,"v":-19.42},{"t":1949.3,"v":-19.65},{"t":1953.4,"v":-19.76},{"t":1957.5,"v":-19.99},{"t":1962.6,"v":-20.16},
{"t":1967.8,"v":-20.22},{"t":1972.9,"v":-20.1},{"t":1978,"v":-20.05},{"t":1983.2,"v":-19.87},{"t":1987.3,"v":-19.82},{"t":1988.3,"v":-20.22},{"t":1990.4,"v":-19.99},{"t":1992.4,"v":-19.47},{"t":1995.5,"v":-19.42},{"t":1998.6,"v":-19.3}
],
"tie": [
{"t":424,"v":-14,"series":"tie point volcanic signal"},{"t":533,"v":-14,"series":"tie point volcanic signal"},{"t":572,"v":-14,"series":"tie point volcanic signal"},{"t":751,"v":-14,"series":"tie point volcanic signal"},
{"t":774.5,"v":-12,"series":"tie point volcanic signal"},{"t":806,"v":-14,"series":"tie point volcanic signal"},{"t":831,"v":-14,"series":"tie point volcanic signal"},{"t":877,"v":-14,"series":"tie point volcanic signal"},
{"t":941,"v":-14,"series":"tie point volcanic signal"},{"t":963,"v":-14,"series":"tie point volcanic signal"},{"t":980,"v":-14,"series":"tie point volcanic signal"},{"t":1038,"v":-14,"series":"tie point volcanic signal"},
{"t":1112,"v":-14,"series":"tie point volcanic signal"},{"t":1183,"v":-14,"series":"tie point volcanic signal"},{"t":1230,"v":-14,"series":"tie point volcanic signal"},{"t":1288,"v":-14,"series":"tie point volcanic signal"},
{"t":1328,"v":-14,"series":"tie point volcanic signal"},{"t":1391,"v":-14,"series":"tie point volcanic signal"},{"t":1419,"v":-14,"series":"tie point volcanic signal"},{"t":1477,"v":-14,"series":"tie point volcanic signal"},
{"t":1502,"v":-14,"series":"tie point volcanic signal"},{"t":1601,"v":-14,"series":"tie point volcanic signal"},{"t":1709,"v":-14,"series":"tie point volcanic signal"},{"t":1721,"v":-14,"series":"tie point volcanic signal"},
{"t":1783,"v":-14,"series":"tie point volcanic signal"},{"t":1912,"v":-14,"series":"tie point volcanic signal"},{"t":1956,"v":-14,"series":"tie point volcanic signal"}
],
"ann": [{"t":774.5,"v":-12,"label":"774/775 AD"}]
},
"layer": [
{
 "data": {"name": "raw"},
 "mark": {"type": "point", "shape": "square", "filled": true, "size": 34, "color": "#b6b6b6", "opacity": 1},
 "encoding": {
  "x": {"field": "t", "type": "quantitative", "scale": {"domain": [400, 2000], "nice": false, "zero": false},
        "axis": {"values": [400, 600, 800, 1000, 1200, 1400, 1600, 1800, 2000], "grid": false, "labelPadding": 30, "labelExpr": "'' + datum.value", "title": "Year AD", "titleFontSize": 47, "titleX": 1593, "titleY": 140, "titleBaseline": "alphabetic", "titleAlign": "center"}},
  "y": {"field": "v", "type": "quantitative", "scale": {"domain": [-30, -10], "nice": false, "zero": false},
        "axis": {"values": [-30, -28, -26, -24, -22, -20, -18, -16, -14, -12, -10], "grid": true, "labelPadding": 35, "labelExpr": "'' + datum.value", "title": "AN δ¹⁸O[o/oo]", "titleFontSize": 42, "titleAngle": 270, "titleX": -236, "titleY": 634, "titleBaseline": "middle", "titleAlign": "center"}}
 }
},
{
 "data": {"name": "raw2"},
 "mark": {"type": "point", "shape": "square", "filled": true, "size": 34, "color": "#b6b6b6", "opacity": 1},
 "encoding": {"x": {"field": "t", "type": "quantitative"}, "y": {"field": "v", "type": "quantitative"}}
},
{
 "data": {"name": "m"},
 "mark": {"type": "line", "color": "black", "strokeWidth": 7, "strokeJoin": "round"},
 "encoding": {"x": {"field": "t", "type": "quantitative"}, "y": {"field": "v", "type": "quantitative"}}
},
{
 "data": {"name": "tie"},
 "mark": {"type": "point", "filled": true, "size": 729, "opacity": 1},
 "encoding": {
  "x": {"field": "t", "type": "quantitative"},
  "y": {"field": "v", "type": "quantitative"},
  "shape": {"field": "series", "type": "nominal",
   "scale": {"domain": ["22yrm", "tie point volcanic signal"], "range": ["M-2.93,-0.19L2.93,-0.19L2.93,0.19L-2.93,0.19Z", "M0,-1L-1,1L1,1Z"]},
   "legend": {"orient": "none", "legendX": 2526, "legendY": -123, "title": null}},
  "color": {"field": "series", "type": "nominal",
   "scale": {"domain": ["22yrm", "tie point volcanic signal"], "range": ["black", "#92C050"]},
   "legend": {"orient": "none", "legendX": 2526, "legendY": -123, "direction": "horizontal", "columns": 2, "title": null,
     "padding": 76, "strokeColor": "black", "fillColor": "white", "labelFont": "Lato", "labelFontSize": 33, "labelColor": "black", "labelLimit": 1000,
     "labelOffset": 29, "columnPadding": 94, "symbolSize": 729, "symbolStrokeWidth": 0, "symbolOpacity": 1}
  }
 }
},
{
 "data": {"name": "ann"},
 "mark": {"type": "point", "shape": "M0,-1L-1,1L1,1Z", "filled": true, "size": 330, "color": "#E8381E", "opacity": 1, "yOffset": 2},
 "encoding": {"x": {"field": "t", "type": "quantitative"}, "y": {"field": "v", "type": "quantitative"}}
},
{
 "data": {"name": "ann"},
 "mark": {"type": "rule", "color": "black", "strokeWidth": 3},
 "encoding": {"x": {"field": "t", "type": "quantitative"}, "y": {"field": "v", "type": "quantitative"}, "y2": {"datum": -11.4}}
},
{
 "data": {"name": "ann"},
 "mark": {"type": "text", "color": "#E8381E", "font": "Lato", "fontWeight": "bold", "fontSize": 46, "align": "center", "baseline": "alphabetic"},
 "encoding": {"x": {"field": "t", "type": "quantitative"}, "y": {"datum": -11.09, "type": "quantitative"}, "text": {"field": "label"}}
}
]
}
